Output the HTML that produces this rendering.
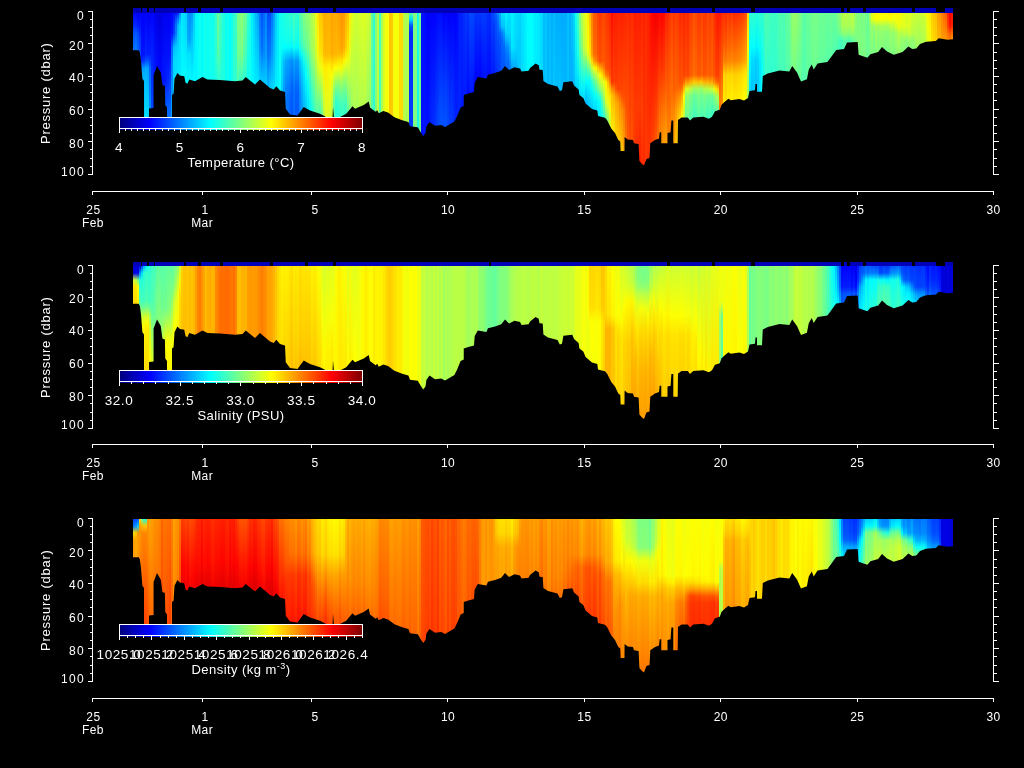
<!DOCTYPE html><html><head><meta charset="utf-8"><title>Temperature, Salinity, Density</title><style>
html,body{margin:0;padding:0;background:#000;}
body{width:1024px;height:768px;overflow:hidden;position:relative;font-family:"Liberation Sans",sans-serif;color:#fff;}
.f{position:absolute;left:0;width:1024px;height:192px;overflow:hidden;}
.cols{position:absolute;left:0;width:1024px;height:170px;}
.cols i{position:absolute;top:0;width:2px;display:block;}
.band{position:absolute;left:133px;top:8px;width:820px;height:4.5px;z-index:2;display:block;background:radial-gradient(circle at 50% 50%,#0000b8 2.3px,rgba(0,0,184,0) 2.8px) 0 0/3px 5px,linear-gradient(#0000b8,#0000b8) 0 1px/100% 3px no-repeat;}
.gap{position:absolute;top:8px;height:4px;background:#000;display:block;z-index:3;}
.cb{position:absolute;left:120px;width:242px;height:12px;background:linear-gradient(90deg,#000080 0,#00f 12.5%,#0ff 37.5%,#ff0 62.5%,#f00 87.5%,#800000 100%);}
svg{position:absolute;left:0;top:0;}
span{position:absolute;white-space:nowrap;line-height:16px;height:16px;margin-top:-8px;}
.t{font-size:12px;width:200px;text-align:center;letter-spacing:.4px;}
.c{font-size:13px;width:200px;text-align:center;letter-spacing:.45px;}
sup{line-height:0;font-size:9px;vertical-align:5px;}
.r{text-align:right;}
.y{letter-spacing:1.3px;}
.n{font-size:13.5px;letter-spacing:.6px;}
.yl{font-size:13px;left:-4.5px;width:100px;text-align:center;transform:rotate(-90deg);letter-spacing:.75px;}
</style></head><body><div class="f" style="top:0px;clip-path:polygon(133px 8px,133px 50.3px,138.75px 50.3px,139.9px 52.5px,141px 61px,142.4px 78.75px,144px 81px,144px 118px,149px 118px,149px 108.5px,153.6px 108px,153.6px 75px,157px 66px,160.75px 72.5px,162.4px 85px,164.9px 86px,165.25px 105px,167px 107.5px,167px 118px,172px 118px,172px 95px,173.6px 93.75px,174.5px 78.75px,177.4px 73px,179.9px 75.6px,184.25px 76.25px,185.5px 82.5px,187.4px 83.75px,189.25px 79.4px,195px 81.25px,202.5px 77px,207.5px 79.5px,220px 80px,235px 81.25px,242.5px 80.5px,245.75px 77px,250px 80.5px,255px 84.5px,260px 79.5px,265px 83.75px,270px 88px,273.75px 89.5px,276.25px 86.25px,280px 90.5px,285px 92px,285.75px 108.75px,290px 114.5px,297.5px 115.5px,303.75px 107px,310px 110.5px,320px 113.75px,325px 116.25px,326px 118px,332.5px 118px,333px 107px,334px 118px,340px 117px,346.25px 113.75px,352.5px 106.25px,355px 108.75px,363.75px 105px,368.75px 101.5px,370px 107.5px,375.6px 111.7px,377.2px 110.2px,378.75px 113.3px,383.4px 111px,388px 112.5px,394.4px 117.2px,402.2px 120.3px,408.4px 121.9px,410px 126.25px,417.8px 127.3px,421px 132.8px,423.3px 136px,425.6px 132.8px,426.4px 126.6px,429.5px 121.9px,435px 125.8px,441.25px 125px,445px 127px,454.4px 121.6px,457.5px 115.3px,460.6px 107.5px,463.75px 106px,463.75px 95px,468.4px 93.4px,474px 92px,474.7px 82.5px,477.8px 77px,486.4px 78.6px,488px 74.7px,495px 73px,501.25px 70.8px,505px 66px,509px 70px,514.5px 67.2px,520px 68.4px,521.6px 71.6px,528.6px 70.8px,530px 68px,535.6px 63.4px,538.75px 65.3px,539.5px 69.7px,542.7px 70px,543.4px 81px,548px 84px,557.5px 86.4px,559.8px 91px,562px 90.3px,563.4px 82.2px,572.3px 81.25px,574px 85.6px,578.6px 89.5px,579.4px 95px,583.3px 98px,585.6px 103.6px,592px 109px,597.3px 110.6px,598px 116px,605px 117.7px,607.3px 120.6px,611.25px 128.4px,615px 133px,618.3px 140px,620.3px 141.5px,620.6px 151px,624.5px 151px,624.6px 137px,627.7px 139.4px,633px 140px,634px 143.3px,638.6px 144px,639.4px 161px,642px 164px,644px 165.5px,646.4px 159px,649.5px 158px,650.3px 143.3px,655px 140px,659px 138.6px,659.7px 132.3px,661.25px 132.3px,661.25px 143.3px,667.5px 143.3px,667.5px 133px,670.6px 132.3px,671.4px 120.6px,673.3px 120.6px,673.3px 143.3px,677.7px 143.3px,678px 120px,681.6px 117.5px,687.8px 117.5px,690px 120.6px,693.3px 117.5px,703.4px 116.7px,709px 118.75px,712px 116.7px,715px 111.25px,719.8px 109.7px,721.4px 105px,724.5px 101.9px,728.4px 98.75px,730.8px 100.3px,739.4px 99px,744px 100.6px,748px 98px,749.5px 91px,755px 90.2px,755.5px 84px,757px 84px,757px 91.7px,762px 91.7px,762.8px 76px,767.8px 73.4px,779.5px 70.4px,789.3px 71.4px,792.2px 66px,797px 72.4px,801px 81.5px,806.9px 79.2px,808.8px 69.5px,811.75px 64.6px,813.7px 69.5px,817.6px 63.6px,827.4px 62px,831.3px 56.75px,836.2px 50px,844px 49px,847px 42.5px,857.7px 42px,858.6px 54.8px,867.4px 57.7px,870.4px 54.2px,878.2px 51.9px,882px 47px,887px 51.5px,893.8px 54.8px,902.6px 51.9px,908.4px 46.4px,912.3px 49px,916.25px 48.4px,920px 44px,926px 41.7px,935.8px 41px,938.7px 38.2px,947.5px 39.8px,953px 39.2px,953px 8px)"><b class="band"></b><b class="gap" style="left:140.6px;width:1.6px"></b><b class="gap" style="left:146.9px;width:2.3px"></b><b class="gap" style="left:153.9px;width:1.6px"></b><b class="gap" style="left:183.6px;width:2.4px"></b><b class="gap" style="left:198.4px;width:2.4px"></b><b class="gap" style="left:220.3px;width:2.4px"></b><b class="gap" style="left:269.5px;width:3.2px"></b><b class="gap" style="left:305px;width:2.5px"></b><b class="gap" style="left:332.5px;width:3.5px"></b><b class="gap" style="left:488.75px;width:2.25px"></b><b class="gap" style="left:667px;width:2.5px"></b><b class="gap" style="left:711.5px;width:3px"></b><b class="gap" style="left:750.75px;width:3.75px"></b><b class="gap" style="left:841px;width:3px"></b><b class="gap" style="left:847px;width:3px"></b><b class="gap" style="left:862.5px;width:3px"></b><b class="gap" style="left:912px;width:3px"></b><b class="gap" style="left:936px;width:8.5px"></b><div class="cols" style="top:12px"><i style="left:133px;height:40px;background:linear-gradient(#0000f6 0,#0026ff 14px,#0051ff 21px,#006eff 35px,#0072ff 42px)"></i><i style="left:135px;height:40px;background:linear-gradient(#0000fc 0,#002cff 14px,#0056ff 21px,#0073ff 35px,#07f 42px)"></i><i style="left:137px;height:40px;background:linear-gradient(#0000ea 0,#001aff 14px,#0045ff 21px,#0061ff 35px,#0065ff 42px)"></i><i style="left:139px;height:50px;background:linear-gradient(#0000fc 0,#0017ff 14px,#0039ff 28px,#004cff 49px)"></i><i style="left:141px;height:69px;background:linear-gradient(#0000fb 0,#01f 42px,#0029ff 49px,#0096ff 56px,#00b6ff 63px,#0bf 70px)"></i><i style="left:143px;height:107px;background:linear-gradient(#0000f8 0,#0013ff 42px,#0036ff 49px,#0098ff 56px,#00b2ff 63px,#00d7ff 112px)"></i><i style="left:145px;height:107px;background:linear-gradient(#0003ff 0,#02f 42px,#0050ff 49px,#00a8ff 56px,#00c2ff 70px,#00e6ff 112px)"></i><i style="left:147px;height:107px;background:linear-gradient(#0000f3 0,#0019ff 42px,#0052ff 49px,#009fff 56px,#00d4ff 98px,#00dcff 112px)"></i><i style="left:149px;height:98px;background:linear-gradient(#0000fb 0,#001dff 42px,#003eff 49px,#0065ff 56px,#0090ff 98px)"></i><i style="left:151px;height:98px;background:linear-gradient(#0005ff 0,#003eff 84px,#0048ff 98px)"></i><i style="left:153px;height:98px;background:linear-gradient(#0000fa 0,#0035ff 98px)"></i><i style="left:155px;height:61px;background:linear-gradient(#0000e7 0,#01f 63px)"></i><i style="left:157px;height:59px;background:linear-gradient(#0000e2 0,#000cff 63px)"></i><i style="left:159px;height:64px;background:linear-gradient(#0000de 0,#0004ff 63px)"></i><i style="left:161px;height:75px;background:linear-gradient(#0000e9 0,#01f 70px,#001fff 77px)"></i><i style="left:163px;height:80px;background:linear-gradient(#0000f1 0,#0018ff 70px,#003fff 84px)"></i><i style="left:165px;height:97px;background:linear-gradient(#0000f1 0,#001dff 70px,#0053ff 91px,#0060ff 98px)"></i><i style="left:167px;height:107px;background:linear-gradient(#0000f3 0,#0013ff 49px,#002cff 70px,#0063ff 98px,#006fff 112px)"></i><i style="left:169px;height:107px;background:linear-gradient(#0000f6 0,#0010ff 42px,#0047ff 77px,#0071ff 105px,#0071ff 112px)"></i><i style="left:171px;height:107px;background:linear-gradient(#0006ff 0,#0015ff 21px,#003bff 28px,#0063ff 35px,#0084ff 56px,#00a4ff 112px)"></i><i style="left:173px;height:84px;background:linear-gradient(#000dff 0,#0036ff 14px,#003cff 21px,#0079ff 28px,#00baff 35px,#00d8ff 49px,#00d2ff 84px)"></i><i style="left:175px;height:67px;background:linear-gradient(#0010ff 0,#004dff 7px,#0073ff 14px,#0078ff 21px,#009eff 28px,#00c6ff 35px,#00dcff 49px,#0df 70px)"></i><i style="left:177px;height:64px;background:linear-gradient(#0016ff 0,#0079ff 7px,#00b3ff 14px,#00c6ff 28px,#0df 42px,#00e8ff 63px)"></i><i style="left:179px;height:65px;background:linear-gradient(#007bff 0,#00b6ff 7px,#00d9ff 14px,#00eaff 63px)"></i><i style="left:181px;height:66px;background:linear-gradient(#00e8ff 0,#00fbff 70px)"></i><i style="left:183px;height:69px;background:linear-gradient(#0df 0,#01fffe 70px)"></i><i style="left:185px;height:73px;background:linear-gradient(#00d2ff 0,#06fff9 77px)"></i><i style="left:187px;height:73px;background:linear-gradient(#0097ff 0,#00acff 28px,#00e2ff 42px,#00faff 77px)"></i><i style="left:189px;height:69px;background:linear-gradient(#008cff 0,#00a5ff 28px,#00e2ff 42px,#00fcff 70px)"></i><i style="left:191px;height:70px;background:linear-gradient(#0097ff 0,#00caff 35px,#0ef 63px,#00f3ff 70px)"></i><i style="left:193px;height:71px;background:linear-gradient(#00c8ff 0,#00feff 70px)"></i><i style="left:195px;height:71px;background:#00f5ff"></i><i style="left:197px;height:70px;background:#00fdff"></i><i style="left:199px;height:68px;background:#0ffff0"></i><i style="left:201px;height:67px;background:#00fbff"></i><i style="left:203px;height:68px;background:#0ffff0"></i><i style="left:205px;height:69px;background:#0efff1"></i><i style="left:207px;height:69px;background:#0bfff4"></i><i style="left:209px;height:69px;background:#10ffef"></i><i style="left:211px;height:69px;background:#10ffef"></i><i style="left:213px;height:69px;background:#14ffeb"></i><i style="left:215px;height:69px;background:linear-gradient(#38ffc7 0,#2affd5 49px,#19ffe6 70px)"></i><i style="left:217px;height:69px;background:linear-gradient(#6f9 0,#5fa 42px,#28ffd7 70px)"></i><i style="left:219px;height:70px;background:linear-gradient(#4cffb3 0,#42ffbd 42px,#27ffd8 70px)"></i><i style="left:221px;height:70px;background:linear-gradient(#2cffd3 0,#20ffdf 70px)"></i><i style="left:223px;height:70px;background:#1cffe3"></i><i style="left:225px;height:70px;background:#0dfff2"></i><i style="left:227px;height:70px;background:#0ffff0"></i><i style="left:229px;height:70px;background:#0ff"></i><i style="left:231px;height:71px;background:#17ffe8"></i><i style="left:233px;height:71px;background:#2bffd4"></i><i style="left:235px;height:71px;background:linear-gradient(#41ffbe 0,#31ffce 70px)"></i><i style="left:237px;height:71px;background:linear-gradient(#7cff83 0,#72ff8d 42px,#4effb1 70px)"></i><i style="left:239px;height:70px;background:linear-gradient(#81ff7e 0,#71ff8e 42px,#35ffca 70px)"></i><i style="left:241px;height:70px;background:linear-gradient(#90ff6f 0,#79ff86 42px,#46ffb9 63px,#39ffc6 70px)"></i><i style="left:243px;height:69px;background:linear-gradient(#75ff8a 0,#58ffa7 42px,#28ffd7 70px)"></i><i style="left:245px;height:68px;background:linear-gradient(#6bff94 0,#2fffd0 63px,#29ffd6 70px)"></i><i style="left:247px;height:69px;background:linear-gradient(#36ffc9 0,#08fff7 70px)"></i><i style="left:249px;height:71px;background:linear-gradient(#1effe1 0,#0ffff0 70px)"></i><i style="left:251px;height:72px;background:linear-gradient(#00efff 0,#00f9ff 70px)"></i><i style="left:253px;height:74px;background:linear-gradient(#00d7ff 0,#00f5ff 77px)"></i><i style="left:255px;height:74px;background:linear-gradient(#00b8ff 0,#00ebff 77px)"></i><i style="left:257px;height:72px;background:linear-gradient(#00a0ff 0,#00d6ff 56px,#00e7ff 70px)"></i><i style="left:259px;height:70px;background:linear-gradient(#0070ff 0,#0097ff 42px,#00d1ff 70px)"></i><i style="left:261px;height:72px;background:linear-gradient(#0051ff 0,#006dff 35px,#00a7ff 56px,#0cf 70px)"></i><i style="left:263px;height:73px;background:linear-gradient(#0067ff 0,#008aff 42px,#00bcff 63px,#00cdff 77px)"></i><i style="left:265px;height:75px;background:linear-gradient(#0081ff 0,#009dff 42px,#00d3ff 77px)"></i><i style="left:267px;height:77px;background:linear-gradient(#004bff 0,#0071ff 42px,#00acff 70px,#00b6ff 77px)"></i><i style="left:269px;height:78px;background:linear-gradient(#0048ff 0,#007aff 42px,#00adff 63px,#0cf 77px)"></i><i style="left:271px;height:79px;background:linear-gradient(#0071ff 0,#0098ff 42px,#00d4ff 77px)"></i><i style="left:273px;height:79px;background:linear-gradient(#09f 0,#00c5ff 56px,#00dbff 77px)"></i><i style="left:275px;height:77px;background:linear-gradient(#00caff 0,#0ef 77px)"></i><i style="left:277px;height:79px;background:linear-gradient(#00eaff 0,#00f2ff 77px)"></i><i style="left:279px;height:80px;background:linear-gradient(#15ffea 0,#01fffe 84px)"></i><i style="left:281px;height:81px;background:linear-gradient(#16ffe9 0,#04fffb 35px,#00dfff 49px,#00c8ff 84px)"></i><i style="left:283px;height:81px;background:linear-gradient(#1dffe2 0,#0efff1 28px,#02fffd 35px,#00dfff 42px,#00bdff 49px,#0096ff 84px)"></i><i style="left:285px;height:100px;background:linear-gradient(#25ffda 0,#12ffed 28px,#01fffe 35px,#00d4ff 42px,#00a9ff 49px,#0079ff 84px,#0079ff 98px)"></i><i style="left:287px;height:103px;background:linear-gradient(#2bffd4 0,#12ffed 28px,#0ff 35px,#00cfff 42px,#00a1ff 49px,#0070ff 84px,#006dff 105px)"></i><i style="left:289px;height:104px;background:linear-gradient(#31ffce 0,#13ffec 28px,#00feff 35px,#00c9ff 42px,#09f 49px,#0067ff 84px,#0061ff 105px)"></i><i style="left:291px;height:104px;background:linear-gradient(#32ffcd 0,#10ffef 28px,#00f8ff 35px,#00bfff 42px,#008cff 49px,#005dff 77px,#0051ff 105px)"></i><i style="left:293px;height:105px;background:linear-gradient(#47ffb8 0,#27ffd8 28px,#1fe 35px,#00d9ff 42px,#00a6ff 49px,#0074ff 77px,#0068ff 105px)"></i><i style="left:295px;height:105px;background:linear-gradient(#3fc 0,#15ffea 28px,#01fffe 35px,#00caff 42px,#0098ff 49px,#0063ff 77px,#0057ff 105px)"></i><i style="left:297px;height:105px;background:linear-gradient(#2fffd0 0,#13ffec 28px,#0ff 35px,#0cf 42px,#09f 49px,#0062ff 77px,#0056ff 105px)"></i><i style="left:299px;height:103px;background:linear-gradient(#53ffac 0,#37ffc8 28px,#24ffdb 35px,#00f4ff 42px,#00c5ff 49px,#008dff 77px,#007dff 105px)"></i><i style="left:301px;height:100px;background:linear-gradient(#68ff97 0,#49ffb6 28px,#38ffc7 35px,#0efff1 42px,#00e4ff 49px,#00c3ff 63px,#0098ff 98px)"></i><i style="left:303px;height:98px;background:linear-gradient(#82ff7d 0,#60ff9f 28px,#4fffb0 35px,#2cffd3 42px,#0ef 56px,#00b5ff 98px)"></i><i style="left:305px;height:98px;background:linear-gradient(#8aff75 0,#60ff9f 35px,#24ffdb 49px,#01fffe 63px,#00c9ff 98px)"></i><i style="left:307px;height:99px;background:linear-gradient(#95ff6a 0,#75ff8a 35px,#4fb 49px,#12ffed 70px,#00e0ff 98px)"></i><i style="left:309px;height:100px;background:linear-gradient(#a1ff5e 0,#89ff76 35px,#50ffaf 56px,#20ffdf 77px,#00f7ff 98px)"></i><i style="left:311px;height:101px;background:linear-gradient(#b5ff4a 0,#a2ff5d 35px,#73ff8c 56px,#43ffbc 77px,#1affe5 98px,#19ffe6 105px)"></i><i style="left:313px;height:102px;background:linear-gradient(#c7ff38 0,#af5 42px,#6dff92 70px,#3dffc2 98px,#3bffc4 105px)"></i><i style="left:315px;height:102px;background:linear-gradient(#e8ff17 0,#cbff34 42px,#9bff64 63px,#60ff9f 91px,#4dffb2 105px)"></i><i style="left:317px;height:103px;background:linear-gradient(#ffe400 0,#fff600 35px,#d6ff29 56px,#af5 70px,#70ff8f 91px,#52ffad 105px)"></i><i style="left:319px;height:104px;background:linear-gradient(#ffc800 0,#ffdb00 35px,#eaff15 56px,#b3ff4c 70px,#7fff80 84px,#51ffae 98px,#41ffbe 105px)"></i><i style="left:321px;height:105px;background:linear-gradient(#ffc600 0,#ffdf00 42px,#f0ff0f 56px,#c5ff3a 70px,#8dff72 91px,#6fff90 105px)"></i><i style="left:323px;height:106px;background:linear-gradient(#ffac00 0,#ffbd00 42px,#ffef00 56px,#d7ff28 84px,#b6ff49 105px)"></i><i style="left:325px;height:107px;background:linear-gradient(#ffad00 0,#ffb700 42px,#ffec00 56px,#e1ff1e 105px,#e1ff1e 112px)"></i><i style="left:327px;height:107px;background:linear-gradient(#ffb100 0,#fb0 42px,#fff400 56px,#d9ff26 105px,#d9ff26 112px)"></i><i style="left:329px;height:107px;background:linear-gradient(#ffaf00 0,#ffb900 42px,#fff600 56px,#e2ff1d 91px,#d6ff29 112px)"></i><i style="left:331px;height:107px;background:linear-gradient(#ffa300 0,#ffad00 42px,#ffcb00 49px,#f9ff06 63px,#c0ff3f 91px,#b2ff4d 112px)"></i><i style="left:333px;height:107px;background:linear-gradient(#fa0 0,#ffb400 42px,#ffd400 49px,#fff900 56px,#dcff23 63px,#b4ff4b 70px,#92ff6d 77px,#60ff9f 91px,#50ffaf 112px)"></i><i style="left:335px;height:107px;background:linear-gradient(#ffa900 0,#ffb700 42px,#ffda00 49px,#feff01 56px,#cf3 63px,#9bff64 70px,#72ff8d 77px,#4cffb3 84px,#34ffcb 91px,#23ffdc 105px)"></i><i style="left:337px;height:107px;background:linear-gradient(#ffa600 0,#ffb200 35px,#ffbc00 42px,#ffe100 49px,#f6ff09 56px,#c6ff39 63px,#98ff67 70px,#71ff8e 77px,#36ffc9 91px,#26ffd9 105px)"></i><i style="left:339px;height:107px;background:linear-gradient(#ff9d00 0,#ffab00 35px,#ffba00 42px,#ffe300 49px,#f4ff0b 56px,#c7ff38 63px,#9bff64 70px,#7f8 77px,#3fffc0 91px,#2fffd0 105px)"></i><i style="left:341px;height:106px;background:linear-gradient(#ff9200 0,#ffa100 35px,#ffb600 42px,#ffe100 49px,#f5ff0a 56px,#caff35 63px,#a1ff5e 70px,#80ff7f 77px,#4bffb4 91px,#3affc5 105px)"></i><i style="left:343px;height:105px;background:linear-gradient(#ff9c00 0,#ffae00 35px,#ffc800 42px,#fff600 49px,#dfff20 56px,#b7ff48 63px,#91ff6e 70px,#5fa 84px,#37ffc8 98px,#30ffcf 105px)"></i><i style="left:345px;height:104px;background:linear-gradient(#ffb400 0,#fc0 35px,#ffe500 42px,#f0ff0f 49px,#cf3 56px,#af5 63px,#72ff8d 77px,#46ffb9 91px,#36ffc9 105px)"></i><i style="left:347px;height:102px;background:linear-gradient(#ffc300 0,#ffe400 35px,#ebff14 49px,#bf4 63px,#83ff7c 84px,#6f9 98px,#65ff9a 105px)"></i><i style="left:349px;height:100px;background:linear-gradient(#ffec00 0,#e6ff19 42px,#abff54 70px,#7eff81 98px)"></i><i style="left:351px;height:98px;background:linear-gradient(#e8ff17 0,#bdff42 56px,#9cff63 98px)"></i><i style="left:353px;height:98px;background:linear-gradient(#d6ff29 0,#aeff51 98px)"></i><i style="left:355px;height:98px;background:linear-gradient(#d1ff2e 0,#a8ff57 98px)"></i><i style="left:357px;height:97px;background:linear-gradient(#d4ff2b 0,#acff53 98px)"></i><i style="left:359px;height:97px;background:linear-gradient(#daff25 0,#b2ff4d 98px)"></i><i style="left:361px;height:96px;background:linear-gradient(#daff25 0,#b1ff4e 98px)"></i><i style="left:363px;height:95px;background:linear-gradient(#dfff20 0,#b4ff4b 98px)"></i><i style="left:365px;height:94px;background:linear-gradient(#dcff23 0,#afff50 98px)"></i><i style="left:367px;height:92px;background:linear-gradient(#cfff30 0,#9eff61 91px)"></i><i style="left:369px;height:98px;background:linear-gradient(#c8ff37 0,#95ff6a 98px)"></i><i style="left:371px;height:99px;background:linear-gradient(#65ff9a 0,#54ffab 98px)"></i><i style="left:373px;height:101px;background:#30ffcf"></i><i style="left:375px;height:101px;background:#8aff75"></i><i style="left:377px;height:103px;background:#bdff42"></i><i style="left:379px;height:103px;background:#47ffb8"></i><i style="left:381px;height:102px;background:#af5"></i><i style="left:383px;height:101px;background:#dcff23"></i><i style="left:385px;height:102px;background:#f5ff0a"></i><i style="left:387px;height:103px;background:#f7ff08"></i><i style="left:389px;height:104px;background:#ffc500"></i><i style="left:391px;height:106px;background:#ffcb00"></i><i style="left:393px;height:107px;background:#f1ff0e"></i><i style="left:395px;height:108px;background:#faff05"></i><i style="left:397px;height:109px;background:#f0ff0f"></i><i style="left:399px;height:109px;background:#ffda00"></i><i style="left:401px;height:110px;background:#ffdb00"></i><i style="left:403px;height:111px;background:#baff45"></i><i style="left:405px;height:111px;background:#abff54"></i><i style="left:407px;height:113px;background:#b0ff4f"></i><i style="left:409px;height:116px;background:linear-gradient(#6fff90 0,#00dfff 7px,#0050ff 14px,#0028ff 21px,#003cff 119px)"></i><i style="left:411px;height:116px;background:linear-gradient(#71ff8e 0,#00e1ff 7px,#0053ff 14px,#002bff 21px,#003eff 119px)"></i><i style="left:413px;height:116px;background:#7eff81"></i><i style="left:415px;height:117px;background:#7eff81"></i><i style="left:417px;height:119px;background:#16ffe9"></i><i style="left:419px;height:122px;background:#6dff92"></i><i style="left:421px;height:125px;background:#0010ff"></i><i style="left:423px;height:125px;background:linear-gradient(#000eff 0,#0015ff 126px)"></i><i style="left:425px;height:123px;background:linear-gradient(#0003ff 0,#0013ff 126px)"></i><i style="left:427px;height:115px;background:linear-gradient(#0000f7 0,#0010ff 119px)"></i><i style="left:429px;height:112px;background:linear-gradient(#0000fc 0,#001cff 112px)"></i><i style="left:431px;height:114px;background:linear-gradient(#0002ff 0,#0029ff 112px)"></i><i style="left:433px;height:115px;background:linear-gradient(#00f 0,#002fff 119px)"></i><i style="left:435px;height:115px;background:linear-gradient(#0005ff 0,#003cff 119px)"></i><i style="left:437px;height:115px;background:linear-gradient(#0008ff 0,#0042ff 105px,#0047ff 119px)"></i><i style="left:439px;height:115px;background:linear-gradient(#000dff 0,#0047ff 91px,#05f 119px)"></i><i style="left:441px;height:115px;background:linear-gradient(#0008ff 0,#04f 84px,#0057ff 119px)"></i><i style="left:443px;height:116px;background:linear-gradient(#0000fa 0,#0034ff 70px,#0053ff 119px)"></i><i style="left:445px;height:116px;background:linear-gradient(#0002ff 0,#003bff 70px,#0059ff 119px)"></i><i style="left:447px;height:115px;background:linear-gradient(#0000fc 0,#0039ff 84px,#0049ff 119px)"></i><i style="left:449px;height:114px;background:linear-gradient(#0000f7 0,#0034ff 98px,#003aff 112px)"></i><i style="left:451px;height:113px;background:linear-gradient(#0002ff 0,#03f 91px,#003aff 112px)"></i><i style="left:453px;height:112px;background:linear-gradient(#0000fe 0,#0027ff 84px,#002dff 112px)"></i><i style="left:455px;height:110px;background:linear-gradient(#0000fc 0,#001cff 91px,#001fff 112px)"></i><i style="left:457px;height:106px;background:linear-gradient(#000fff 0,#02f 105px)"></i><i style="left:459px;height:101px;background:linear-gradient(#001fff 0,#0023ff 105px)"></i><i style="left:461px;height:97px;background:linear-gradient(#0021ff 0,#0016ff 98px)"></i><i style="left:463px;height:96px;background:linear-gradient(#002dff 0,#0018ff 98px)"></i><i style="left:465px;height:84px;background:linear-gradient(#0038ff 0,#001aff 84px)"></i><i style="left:467px;height:83px;background:linear-gradient(#0030ff 0,#0008ff 84px)"></i><i style="left:469px;height:83px;background:linear-gradient(#0046ff 0,#0013ff 84px)"></i><i style="left:471px;height:82px;background:linear-gradient(#0047ff 0,#0014ff 84px)"></i><i style="left:473px;height:82px;background:linear-gradient(#0041ff 0,#000eff 77px,#000eff 84px)"></i><i style="left:475px;height:71px;background:linear-gradient(#0031ff 0,#0003ff 63px,#00f 70px)"></i><i style="left:477px;height:68px;background:linear-gradient(#0039ff 0,#01f 49px,#0007ff 70px)"></i><i style="left:479px;height:67px;background:linear-gradient(#0034ff 0,#000eff 42px,#0001ff 70px)"></i><i style="left:481px;height:67px;background:linear-gradient(#003cff 0,#0015ff 49px,#000dff 70px)"></i><i style="left:483px;height:68px;background:linear-gradient(#003cff 0,#0012ff 63px,#01f 70px)"></i><i style="left:485px;height:68px;background:linear-gradient(#0037ff 0,#0010ff 70px)"></i><i style="left:487px;height:67px;background:linear-gradient(#002dff 0,#000aff 70px)"></i><i style="left:489px;height:64px;background:linear-gradient(#002aff 0,#000bff 63px)"></i><i style="left:491px;height:63px;background:linear-gradient(#0045ff 0,#001aff 63px)"></i><i style="left:493px;height:63px;background:linear-gradient(#004fff 0,#0037ff 14px,#0019ff 63px)"></i><i style="left:495px;height:62px;background:linear-gradient(#006cff 0,#0054ff 7px,#002aff 63px)"></i><i style="left:497px;height:62px;background:linear-gradient(#008bff 0,#0073ff 7px,#004cff 28px,#0035ff 63px)"></i><i style="left:499px;height:61px;background:linear-gradient(#00adff 0,#008dff 14px,#0060ff 21px,#004bff 35px,#003bff 63px)"></i><i style="left:501px;height:60px;background:linear-gradient(#00e2ff 0,#00c3ff 14px,#007cff 21px,#0065ff 28px,#0053ff 63px)"></i><i style="left:503px;height:58px;background:linear-gradient(#0df 0,#00c6ff 14px,#09f 21px,#0067ff 35px,#004fff 56px)"></i><i style="left:505px;height:57px;background:linear-gradient(#00f5ff 0,#00e5ff 14px,#00d2ff 21px,#00b0ff 28px,#0089ff 35px,#0075ff 42px,#06f 56px)"></i><i style="left:507px;height:59px;background:linear-gradient(#00e2ff 0,#00d2ff 21px,#00b5ff 28px,#008fff 35px,#006bff 49px,#0060ff 63px)"></i><i style="left:509px;height:59px;background:linear-gradient(#00e2ff 0,#00d7ff 21px,#009fff 42px,#0078ff 56px,#0078ff 63px)"></i><i style="left:511px;height:58px;background:linear-gradient(#00f3ff 0,#00e9ff 35px,#00baff 49px,#00a1ff 56px)"></i><i style="left:513px;height:57px;background:linear-gradient(#00e9ff 0,#00e1ff 35px,#0af 56px)"></i><i style="left:515px;height:57px;background:linear-gradient(#00dcff 0,#00d5ff 35px,#00afff 56px)"></i><i style="left:517px;height:58px;background:linear-gradient(#00dbff 0,#00ceff 42px,#00bfff 56px)"></i><i style="left:519px;height:60px;background:linear-gradient(#00d2ff 0,#00c8ff 63px)"></i><i style="left:521px;height:61px;background:linear-gradient(#00e2ff 0,#00daff 63px)"></i><i style="left:523px;height:61px;background:linear-gradient(#00e8ff 0,#00e2ff 63px)"></i><i style="left:525px;height:61px;background:linear-gradient(#00f2ff 0,#0ef 63px)"></i><i style="left:527px;height:60px;background:linear-gradient(#00fdff 0,#00fbff 63px)"></i><i style="left:529px;height:59px;background:#00feff"></i><i style="left:531px;height:57px;background:#00feff"></i><i style="left:533px;height:55px;background:#00f3ff"></i><i style="left:535px;height:54px;background:#0ef"></i><i style="left:537px;height:56px;background:#00ebff"></i><i style="left:539px;height:59px;background:#00e2ff"></i><i style="left:541px;height:64px;background:#00dbff"></i><i style="left:543px;height:72px;background:#00bdff"></i><i style="left:545px;height:73px;background:linear-gradient(#00c6ff 0,#00c7ff 77px)"></i><i style="left:547px;height:74px;background:linear-gradient(#00b2ff 0,#00b6ff 77px)"></i><i style="left:549px;height:74px;background:linear-gradient(#00bcff 0,#00c3ff 77px)"></i><i style="left:551px;height:75px;background:linear-gradient(#00aeff 0,#00b8ff 77px)"></i><i style="left:553px;height:75px;background:linear-gradient(#0bf 0,#00c7ff 77px)"></i><i style="left:555px;height:76px;background:linear-gradient(#00afff 0,#00beff 77px)"></i><i style="left:557px;height:79px;background:linear-gradient(#00aeff 0,#00bfff 77px)"></i><i style="left:559px;height:80px;background:linear-gradient(#00adff 0,#00c2ff 84px)"></i><i style="left:561px;height:80px;background:linear-gradient(#0af 0,#0bf 84px)"></i><i style="left:563px;height:74px;background:linear-gradient(#00adff 0,#00b9ff 77px)"></i><i style="left:565px;height:72px;background:linear-gradient(#00acff 0,#00b3ff 70px)"></i><i style="left:567px;height:71px;background:linear-gradient(#00c0ff 0,#00c4ff 70px)"></i><i style="left:569px;height:71px;background:#00b0ff"></i><i style="left:571px;height:73px;background:linear-gradient(#00c1ff 0,#00b1ff 77px)"></i><i style="left:573px;height:76px;background:linear-gradient(#00d9ff 0,#00b8ff 77px)"></i><i style="left:575px;height:78px;background:linear-gradient(#14ffeb 0,#00e1ff 63px,#00d3ff 77px)"></i><i style="left:577px;height:82px;background:linear-gradient(#41ffbe 0,#1affe5 42px,#00e0ff 70px,#00c5ff 84px)"></i><i style="left:579px;height:86px;background:linear-gradient(#86ff79 0,#60ff9f 35px,#26ffd9 56px,#00ecff 77px,#00dbff 84px)"></i><i style="left:581px;height:87px;background:linear-gradient(#b8ff47 0,#89ff76 35px,#58ffa7 49px,#1fffe0 63px,#00f2ff 77px,#0df 84px,#00d6ff 91px)"></i><i style="left:583px;height:92px;background:linear-gradient(#df2 0,#bcff43 35px,#a2ff5d 42px,#79ff86 49px,#50ffaf 56px,#2dffd2 63px,#00f3ff 77px,#00d4ff 91px)"></i><i style="left:585px;height:94px;background:linear-gradient(#eaff15 0,#d7ff28 35px,#b7ff48 42px,#82ff7d 49px,#4cffb3 56px,#23ffdc 63px,#0ff 70px,#00dbff 77px,#00b9ff 91px,#00b7ff 98px)"></i><i style="left:587px;height:96px;background:linear-gradient(#ffeb00 0,#f9ff06 35px,#e6ff19 42px,#a9ff56 49px,#68ff97 56px,#30ffcf 63px,#02fffd 70px,#00d4ff 84px,#00bcff 98px)"></i><i style="left:589px;height:98px;background:linear-gradient(#ffbe00 0,#ffe600 42px,#d3ff2c 49px,#8f7 56px,#41ffbe 63px,#08fff7 70px,#00d2ff 91px,#00c5ff 98px)"></i><i style="left:591px;height:99px;background:linear-gradient(#ff8200 0,#ff9c00 42px,#ffd700 49px,#c2ff3d 56px,#70ff8f 63px,#2cffd3 70px,#09fff6 77px,#00e9ff 84px,#00cbff 98px)"></i><i style="left:593px;height:99px;background:linear-gradient(#ff5800 0,#ff6a00 42px,#ff9a00 49px,#f4ff0b 56px,#9dff62 63px,#56ffa9 70px,#29ffd6 77px,#00fbff 84px,#00daff 98px)"></i><i style="left:595px;height:100px;background:linear-gradient(#f50 0,#ff6700 42px,#f80 49px,#fff400 56px,#b3ff4c 63px,#72ff8d 70px,#41ffbe 77px,#07fff8 84px,#00e8ff 91px,#00dcff 98px)"></i><i style="left:597px;height:106px;background:linear-gradient(#ff4100 0,#ff5200 42px,#ff6400 49px,#ffcb00 56px,#dbff24 63px,#a0ff5f 70px,#6aff95 77px,#24ffdb 84px,#00faff 91px,#00eaff 105px)"></i><i style="left:599px;height:106px;background:linear-gradient(#ff3600 0,#ff4a00 49px,#ffac00 56px,#f9ff06 63px,#c4ff3b 70px,#8aff75 77px,#37ffc8 84px,#04fffb 91px,#00f2ff 105px)"></i><i style="left:601px;height:107px;background:linear-gradient(#ff4200 0,#f50 49px,#ff9700 56px,#ffe300 63px,#d2ff2d 70px,#a6ff59 77px,#69ff96 84px,#3cffc3 91px,#0ffff0 105px)"></i><i style="left:603px;height:107px;background:linear-gradient(#ff4600 0,#ff5800 49px,#ff7b00 56px,#ffb900 63px,#e6ff19 70px,#c9ff36 77px,#a2ff5d 84px,#7cff83 91px,#57ffa8 98px,#32ffcd 105px)"></i><i style="left:605px;height:110px;background:linear-gradient(#ff3b00 0,#ff4e00 56px,#ff8000 63px,#fff200 70px,#ecff13 84px,#cdff32 91px,#9f6 98px,#6f9 105px,#5effa1 112px)"></i><i style="left:607px;height:113px;background:linear-gradient(#f30 0,#ff4a00 56px,#ff6d00 63px,#fb0 70px,#ffe100 77px,#e8ff17 91px,#c3ff3c 98px,#9dff62 105px,#95ff6a 112px)"></i><i style="left:609px;height:117px;background:linear-gradient(#ff2500 0,#ff4100 56px,#ff5400 63px,#ff7d00 70px,#ffba00 77px,#ffe400 84px,#f2ff0d 98px,#daff25 105px,#cf3 119px)"></i><i style="left:611px;height:120px;background:linear-gradient(#ff0d00 0,#ff3400 70px,#f80 77px,#ffbf00 84px,#ffed00 119px)"></i><i style="left:613px;height:122px;background:linear-gradient(#ff1d00 0,#ff4000 70px,#ff7900 77px,#ffb100 84px,#ffcd00 98px,#ffeb00 126px)"></i><i style="left:615px;height:127px;background:linear-gradient(#ff1a00 0,#ff3900 70px,#ff5700 77px,#ff8f00 84px,#ffad00 91px,#ffd500 126px)"></i><i style="left:617px;height:130px;background:linear-gradient(#ff2300 0,#ff4100 77px,#ff7900 84px,#ffa100 91px,#ffd400 133px)"></i><i style="left:619px;height:140px;background:linear-gradient(#f20 0,#f40 77px,#ff6800 84px,#ff8b00 91px,#ffc200 126px,#ffd200 140px)"></i><i style="left:621px;height:140px;background:linear-gradient(#ff1f00 0,#ff4300 77px,#ff5400 84px,#ff8b00 98px,#ffc600 140px)"></i><i style="left:623px;height:140px;background:linear-gradient(#ff2300 0,#ff4c00 84px,#ff7800 98px,#fa0 140px)"></i><i style="left:625px;height:128px;background:linear-gradient(#ff2700 0,#ff4800 84px,#ff7100 126px)"></i><i style="left:627px;height:129px;background:linear-gradient(#ff2c00 0,#ff5c00 133px)"></i><i style="left:629px;height:129px;background:linear-gradient(#ff2400 0,#ff4d00 133px)"></i><i style="left:631px;height:129px;background:linear-gradient(#ff2f00 0,#ff5200 126px,#ff5200 133px)"></i><i style="left:633px;height:133px;background:linear-gradient(#ff2000 0,#ff3f00 105px,#ff3d00 133px)"></i><i style="left:635px;height:133px;background:linear-gradient(#ff1d00 0,#ff3a00 98px,#f30 133px)"></i><i style="left:637px;height:142px;background:linear-gradient(#ff2000 0,#ff3b00 98px,#ff2d00 140px)"></i><i style="left:639px;height:152px;background:linear-gradient(#ff1c00 0,#ff3900 91px,#ff1c00 154px)"></i><i style="left:641px;height:154px;background:linear-gradient(#ff2900 0,#ff4000 98px,#ff2e00 154px)"></i><i style="left:643px;height:155px;background:linear-gradient(#ff1f00 0,#ff3200 105px,#ff2900 154px)"></i><i style="left:645px;height:152px;background:linear-gradient(#ff2a00 0,#ff3900 133px,#ff3900 154px)"></i><i style="left:647px;height:148px;background:linear-gradient(#f20 0,#ff3500 147px)"></i><i style="left:649px;height:148px;background:linear-gradient(#f10 0,#ff3900 147px)"></i><i style="left:651px;height:132px;background:linear-gradient(#ff0300 0,#ff3f00 133px)"></i><i style="left:653px;height:131px;background:linear-gradient(#f70000 0,#ff3500 98px,#ff4a00 133px)"></i><i style="left:655px;height:129px;background:linear-gradient(#f40000 0,#ff2e00 77px,#ff5a00 133px)"></i><i style="left:657px;height:129px;background:linear-gradient(#fe0000 0,#ff3800 70px,#ff7500 133px)"></i><i style="left:659px;height:128px;background:linear-gradient(#ff0600 0,#ff3d00 63px,#ff7900 112px,#ff8900 126px)"></i><i style="left:661px;height:133px;background:linear-gradient(#fe0000 0,#ff3200 56px,#ff6d00 98px,#f90 133px)"></i><i style="left:663px;height:133px;background:linear-gradient(#ff0900 0,#ff3b00 56px,#ff7600 98px,#ffa100 133px)"></i><i style="left:665px;height:133px;background:linear-gradient(#ff2100 0,#ff5b00 70px,#ff9700 119px,#ffa100 133px)"></i><i style="left:667px;height:133px;background:linear-gradient(#ff2400 0,#ff6100 84px,#ff8b00 126px,#ff8d00 133px)"></i><i style="left:669px;height:122px;background:linear-gradient(#ff3600 0,#ff6c00 91px,#f80 126px)"></i><i style="left:671px;height:116px;background:linear-gradient(#ff3f00 0,#ff7100 84px,#ff9c00 119px)"></i><i style="left:673px;height:133px;background:linear-gradient(#ff3500 0,#ff5d00 77px,#ff8e00 105px,#ffa800 133px)"></i><i style="left:675px;height:133px;background:linear-gradient(#ff3e00 0,#ff6700 77px,#ff9a00 98px,#ffc300 133px)"></i><i style="left:677px;height:133px;background:linear-gradient(#ff3600 0,#ff5c00 70px,#ff6900 77px,#ff9a00 91px,#ffbd00 105px,#ffd200 133px)"></i><i style="left:679px;height:109px;background:linear-gradient(#ff2900 0,#ff4f00 70px,#ff6700 77px,#ff8f00 84px,#ffbe00 98px,#ffd200 105px,#ffd500 112px)"></i><i style="left:681px;height:107px;background:linear-gradient(#ff2d00 0,#ff5400 70px,#ff7600 77px,#ffab00 84px,#ffdf00 98px,#fff900 105px)"></i><i style="left:683px;height:107px;background:linear-gradient(#ff2300 0,#ff4300 63px,#ff6a00 70px,#ffc200 77px,#faff05 84px,#c2ff3d 105px)"></i><i style="left:685px;height:107px;background:linear-gradient(#ff2f00 0,#ff4c00 63px,#ff9500 70px,#dbff24 77px,#8dff72 84px,#6aff95 105px)"></i><i style="left:687px;height:109px;background:linear-gradient(#ff2700 0,#ff4500 63px,#ff9200 70px,#daff25 77px,#92ff6d 84px,#70ff8f 105px,#70ff8f 112px)"></i><i style="left:689px;height:110px;background:linear-gradient(#ff3b00 0,#ff5900 63px,#fa0 70px,#beff41 77px,#7cff83 84px,#5bffa4 105px,#5bffa4 112px)"></i><i style="left:691px;height:109px;background:linear-gradient(#ff4100 0,#ff5e00 63px,#ffb400 70px,#b1ff4e 77px,#75ff8a 84px,#54ffab 105px,#54ffab 112px)"></i><i style="left:693px;height:107px;background:linear-gradient(#ff5100 0,#ff6f00 63px,#ffc900 70px,#9aff65 77px,#63ff9c 84px,#43ffbc 105px)"></i><i style="left:695px;height:107px;background:linear-gradient(#ff4800 0,#f60 63px,#ffc500 70px,#9aff65 77px,#6aff95 84px,#4affb5 105px)"></i><i style="left:697px;height:107px;background:linear-gradient(#ff3c00 0,#ff5a00 63px,#ffbd00 70px,#9fff60 77px,#75ff8a 84px,#5fa 105px)"></i><i style="left:699px;height:107px;background:linear-gradient(#ff3a00 0,#ff5900 63px,#ffc000 70px,#9f6 77px,#75ff8a 84px,#5fa 105px)"></i><i style="left:701px;height:106px;background:linear-gradient(#ff4500 0,#ff6400 63px,#ffc500 70px,#97ff68 77px,#69ff96 84px,#46ffb9 105px)"></i><i style="left:703px;height:107px;background:linear-gradient(#ff3600 0,#ff5400 63px,#ffaf00 70px,#afff50 77px,#78ff87 84px,#52ffad 105px)"></i><i style="left:705px;height:108px;background:linear-gradient(#ff3900 0,#ff5700 63px,#ffad00 70px,#b5ff4a 77px,#75ff8a 84px,#4bffb4 105px,#4bffb4 112px)"></i><i style="left:707px;height:108px;background:linear-gradient(#ff4500 0,#ff6200 63px,#ffb200 70px,#b3ff4c 77px,#69ff96 84px,#3dffc2 105px,#3dffc2 112px)"></i><i style="left:709px;height:108px;background:linear-gradient(#ff3b00 0,#ff5800 63px,#ffa200 70px,#c5ff3a 77px,#73ff8c 84px,#43ffbc 105px,#43ffbc 112px)"></i><i style="left:711px;height:107px;background:linear-gradient(#ff4700 0,#ff6500 63px,#ffa800 70px,#c2ff3d 77px,#6f9 84px,#3fc 105px)"></i><i style="left:713px;height:104px;background:linear-gradient(#ff3500 0,#f50 63px,#ff8d00 70px,#e9ff16 77px,#81ff7e 84px,#50ffaf 98px,#46ffb9 105px)"></i><i style="left:715px;height:101px;background:linear-gradient(#ff2000 0,#ff4300 63px,#ff7000 70px,#ffec00 77px,#9eff61 84px,#7eff81 91px,#5fffa0 98px,#5affa5 105px)"></i><i style="left:717px;height:100px;background:linear-gradient(#ff1600 0,#ff3b00 63px,#ff5d00 70px,#ffcd00 77px,#b1ff4e 84px,#8bff74 91px,#65ff9a 98px)"></i><i style="left:719px;height:99px;background:linear-gradient(#ff1800 0,#ff4c00 56px,#ff7e00 91px,#ff7e00 98px)"></i><i style="left:721px;height:96px;background:linear-gradient(#ff2a00 0,#ff5e00 56px,#ff9000 91px,#ff9000 98px)"></i><i style="left:723px;height:93px;background:linear-gradient(#f30 0,#ff5100 28px,#ff8200 49px,#fa0 56px,#ffd600 63px,#ffea00 91px)"></i><i style="left:725px;height:91px;background:linear-gradient(#ff2900 0,#ff5a00 35px,#ff7a00 49px,#ffa200 56px,#fc0 63px,#ffe200 91px)"></i><i style="left:727px;height:89px;background:linear-gradient(#ff3600 0,#ff6900 35px,#f80 49px,#ffb000 56px,#ffd900 63px,#fff100 91px)"></i><i style="left:729px;height:90px;background:linear-gradient(#ff2f00 0,#ff6500 35px,#ff8300 49px,#ffab00 56px,#ffd300 63px,#ffec00 91px)"></i><i style="left:731px;height:90px;background:linear-gradient(#ff3700 0,#ff6f00 35px,#ff8c00 49px,#ffb500 56px,#ffdb00 63px,#fff600 91px)"></i><i style="left:733px;height:89px;background:linear-gradient(#ff2a00 0,#ff6500 35px,#ff8100 49px,#fa0 56px,#ffcf00 63px,#ffeb00 91px)"></i><i style="left:735px;height:89px;background:linear-gradient(#ff2d00 0,#ff6a00 35px,#ff8600 49px,#ffae00 56px,#ffd200 63px,#ffef00 91px)"></i><i style="left:737px;height:89px;background:linear-gradient(#ff2f00 0,#ff6200 28px,#ff8a00 49px,#ffb300 56px,#ffd400 63px,#fff000 91px)"></i><i style="left:739px;height:89px;background:linear-gradient(#ff3200 0,#ff6800 28px,#ff8f00 49px,#ffb800 56px,#ffd800 63px,#fff400 91px)"></i><i style="left:741px;height:90px;background:linear-gradient(#ff3600 0,#ff6e00 28px,#ff9500 49px,#ffbf00 56px,#ffdc00 63px,#fff800 91px)"></i><i style="left:743px;height:90px;background:linear-gradient(#ff4000 0,#ff7b00 28px,#ffa200 49px,#ffcb00 56px,#ffe700 63px,#fcff03 91px)"></i><i style="left:745px;height:89px;background:linear-gradient(#ff5000 0,#ff8600 28px,#ffac00 49px,#ffd200 56px,#ffeb00 63px,#f7ff08 91px)"></i><i style="left:747px;height:88px;background:linear-gradient(#ffda00 0,#efff10 35px,#d9ff26 49px,#acff53 63px,#95ff6a 91px)"></i><i style="left:749px;height:83px;background:linear-gradient(#3fc 0,#00feff 42px,#00d9ff 84px)"></i><i style="left:751px;height:80px;background:linear-gradient(#2bffd4 0,#00fdff 35px,#00d8ff 49px,#00c2ff 84px)"></i><i style="left:753px;height:80px;background:linear-gradient(#34ffcb 0,#05fffa 35px,#00d9ff 49px,#00c6ff 84px)"></i><i style="left:755px;height:80px;background:linear-gradient(#25ffda 0,#00f5ff 35px,#00cdff 49px,#00beff 84px)"></i><i style="left:757px;height:81px;background:linear-gradient(#2affd5 0,#00faff 35px,#00d5ff 49px,#00c9ff 84px)"></i><i style="left:759px;height:81px;background:linear-gradient(#30ffcf 0,#09fff6 35px,#00ebff 49px,#00e2ff 84px)"></i><i style="left:761px;height:81px;background:linear-gradient(#30ffcf 0,#04fffb 63px,#02fffd 84px)"></i><i style="left:763px;height:65px;background:linear-gradient(#38ffc7 0,#1cffe3 63px)"></i><i style="left:765px;height:64px;background:linear-gradient(#52ffad 0,#39ffc6 63px)"></i><i style="left:767px;height:63px;background:linear-gradient(#47ffb8 0,#31ffce 63px)"></i><i style="left:769px;height:63px;background:linear-gradient(#45ffba 0,#32ffcd 63px)"></i><i style="left:771px;height:62px;background:linear-gradient(#3dffc2 0,#2effd1 63px)"></i><i style="left:773px;height:62px;background:linear-gradient(#3fffc0 0,#3fc 63px)"></i><i style="left:775px;height:61px;background:linear-gradient(#3cffc3 0,#32ffcd 63px)"></i><i style="left:777px;height:61px;background:linear-gradient(#49ffb6 0,#3fffc0 63px)"></i><i style="left:779px;height:60px;background:linear-gradient(#4dffb2 0,#43ffbc 63px)"></i><i style="left:781px;height:60px;background:linear-gradient(#54ffab 0,#4affb5 63px)"></i><i style="left:783px;height:60px;background:linear-gradient(#48ffb7 0,#3effc1 63px)"></i><i style="left:785px;height:61px;background:linear-gradient(#5effa1 0,#54ffab 63px)"></i><i style="left:787px;height:61px;background:linear-gradient(#5effa1 0,#54ffab 63px)"></i><i style="left:789px;height:61px;background:linear-gradient(#6eff91 0,#5cffa3 63px)"></i><i style="left:791px;height:58px;background:linear-gradient(#8fff70 0,#75ff8a 56px)"></i><i style="left:793px;height:59px;background:linear-gradient(#9bff64 0,#7bff84 63px)"></i><i style="left:795px;height:62px;background:linear-gradient(#96ff69 0,#71ff8e 63px)"></i><i style="left:797px;height:66px;background:linear-gradient(#8cff73 0,#63ff9c 70px)"></i><i style="left:799px;height:71px;background:linear-gradient(#82ff7d 0,#65ff9a 70px)"></i><i style="left:801px;height:71px;background:linear-gradient(#68ff97 0,#58ffa7 70px)"></i><i style="left:803px;height:70px;background:linear-gradient(#5bffa4 0,#51ffae 70px)"></i><i style="left:805px;height:69px;background:linear-gradient(#60ff9f 0,#56ffa9 70px)"></i><i style="left:807px;height:68px;background:linear-gradient(#6bff94 0,#61ff9e 70px)"></i><i style="left:809px;height:59px;background:linear-gradient(#67ff98 0,#5effa1 63px)"></i><i style="left:811px;height:57px;background:linear-gradient(#75ff8a 0,#6bff94 56px)"></i><i style="left:813px;height:59px;background:linear-gradient(#78ff87 0,#6fff90 63px)"></i><i style="left:815px;height:57px;background:linear-gradient(#75ff8a 0,#6cff93 56px)"></i><i style="left:817px;height:54px;background:linear-gradient(#75ff8a 0,#6bff94 56px)"></i><i style="left:819px;height:53px;background:linear-gradient(#6cff93 0,#61ff9e 56px)"></i><i style="left:821px;height:53px;background:linear-gradient(#6eff91 0,#62ff9d 56px)"></i><i style="left:823px;height:52px;background:linear-gradient(#6bff94 0,#5fffa0 56px)"></i><i style="left:825px;height:52px;background:linear-gradient(#6bff94 0,#5dffa2 56px)"></i><i style="left:827px;height:52px;background:linear-gradient(#65ff9a 0,#56ffa9 56px)"></i><i style="left:829px;height:49px;background:linear-gradient(#6dff92 0,#5cffa3 49px)"></i><i style="left:831px;height:47px;background:linear-gradient(#6aff95 0,#58ffa7 49px)"></i><i style="left:833px;height:44px;background:linear-gradient(#64ff9b 0,#50ffaf 42px)"></i><i style="left:835px;height:41px;background:linear-gradient(#71ff8e 0,#50ffaf 42px)"></i><i style="left:837px;height:39px;background:linear-gradient(#82ff7d 0,#68ff97 21px,#4dffb2 28px,#46ffb9 42px)"></i><i style="left:839px;height:39px;background:linear-gradient(#91ff6e 0,#84ff7b 14px,#6eff91 21px,#4fb 28px,#3bffc4 42px)"></i><i style="left:841px;height:39px;background:linear-gradient(#b3ff4c 0,#a3ff5c 14px,#86ff79 21px,#4dffb2 28px,#43ffbc 42px)"></i><i style="left:843px;height:39px;background:linear-gradient(#b9ff46 0,#a9ff56 14px,#8cff73 21px,#53ffac 28px,#4bffb4 42px)"></i><i style="left:845px;height:36px;background:linear-gradient(#beff41 0,#aeff51 14px,#91ff6e 21px,#58ffa7 28px,#54ffab 35px)"></i><i style="left:847px;height:32px;background:linear-gradient(#b7ff48 0,#a7ff58 14px,#8aff75 21px,#51ffae 28px,#4effb1 35px)"></i><i style="left:849px;height:32px;background:linear-gradient(#b5ff4a 0,#a5ff5a 14px,#8f7 21px,#4fffb0 28px,#4dffb2 35px)"></i><i style="left:851px;height:32px;background:linear-gradient(#c4ff3b 0,#b4ff4b 14px,#97ff68 21px,#5effa1 28px,#5effa1 35px)"></i><i style="left:853px;height:32px;background:linear-gradient(#acff53 0,#a1ff5e 14px,#8eff71 21px,#68ff97 28px,#68ff97 35px)"></i><i style="left:855px;height:32px;background:linear-gradient(#96ff69 0,#87ff78 21px,#74ff8b 28px,#74ff8b 35px)"></i><i style="left:857px;height:44px;background:#7dff82"></i><i style="left:859px;height:45px;background:#82ff7d"></i><i style="left:861px;height:46px;background:#79ff86"></i><i style="left:863px;height:46px;background:#7eff81"></i><i style="left:865px;height:47px;background:#73ff8c"></i><i style="left:867px;height:47px;background:#69ff96"></i><i style="left:869px;height:45px;background:linear-gradient(#a5ff5a 0,#a5ff5a 7px,#82ff7d 14px,#74ff8b 49px)"></i><i style="left:871px;height:44px;background:linear-gradient(#e4ff1b 0,#e4ff1b 7px,#9eff61 14px,#8bff74 28px,#82ff7d 42px)"></i><i style="left:873px;height:43px;background:linear-gradient(#ef1 0,#edff12 7px,#96ff69 14px,#83ff7c 21px,#73ff8c 42px)"></i><i style="left:875px;height:42px;background:linear-gradient(#fff900 0,#fffc00 7px,#adff52 14px,#97ff68 21px,#8f7 42px)"></i><i style="left:877px;height:42px;background:linear-gradient(#ff0 0,#fbff04 7px,#a6ff59 14px,#8fff70 21px,#80ff7f 42px)"></i><i style="left:879px;height:40px;background:linear-gradient(#fffc00 0,#fbff04 7px,#a8ff57 14px,#8fff70 21px,#80ff7f 42px)"></i><i style="left:881px;height:38px;background:linear-gradient(#fffa00 0,#fcff03 7px,#af5 14px,#8fff70 21px,#80ff7f 42px)"></i><i style="left:883px;height:39px;background:linear-gradient(#fffa00 0,#faff05 7px,#a9ff56 14px,#8dff72 21px,#7eff81 42px)"></i><i style="left:885px;height:41px;background:linear-gradient(#feff01 0,#f2ff0d 7px,#a2ff5d 14px,#85ff7a 21px,#75ff8a 42px)"></i><i style="left:887px;height:42px;background:linear-gradient(#fff600 0,#faff05 7px,#abff54 14px,#8cff73 21px,#7cff83 42px)"></i><i style="left:889px;height:43px;background:linear-gradient(#fff000 0,#feff01 7px,#b1ff4e 14px,#90ff6f 21px,#80ff7f 42px)"></i><i style="left:891px;height:44px;background:linear-gradient(#fff200 0,#fdff02 7px,#bfff40 14px,#97ff68 21px,#84ff7b 42px)"></i><i style="left:893px;height:44px;background:linear-gradient(#fdff02 0,#efff10 7px,#c0ff3f 14px,#91ff6e 21px,#7bff84 42px)"></i><i style="left:895px;height:44px;background:linear-gradient(#fff800 0,#faff05 7px,#daff25 14px,#a4ff5b 21px,#8aff75 42px)"></i><i style="left:897px;height:43px;background:linear-gradient(#fff800 0,#e5ff1a 14px,#afff50 21px,#96ff69 35px,#8fff70 42px)"></i><i style="left:899px;height:43px;background:linear-gradient(#fff700 0,#efff10 14px,#beff41 21px,#a3ff5c 28px,#94ff6b 42px)"></i><i style="left:901px;height:42px;background:linear-gradient(#edff12 0,#dcff23 14px,#b2ff4d 21px,#8eff71 28px,#7fff80 42px)"></i><i style="left:903px;height:41px;background:linear-gradient(#efff10 0,#e7ff18 14px,#c2ff3d 21px,#96ff69 28px,#86ff79 42px)"></i><i style="left:905px;height:39px;background:linear-gradient(#d9ff26 0,#d9ff26 14px,#bf4 21px,#85ff7a 28px,#75ff8a 42px)"></i><i style="left:907px;height:37px;background:linear-gradient(#e2ff1d 0,#df2 14px,#c5ff3a 21px,#93ff6c 28px,#89ff76 35px)"></i><i style="left:909px;height:38px;background:linear-gradient(#e1ff1e 0,#d8ff27 14px,#c5ff3a 21px,#97ff68 28px,#89ff76 42px)"></i><i style="left:911px;height:38px;background:linear-gradient(#d7ff28 0,#bdff42 21px,#92ff6d 28px,#86ff79 35px,#86ff79 42px)"></i><i style="left:913px;height:38px;background:linear-gradient(#cf3 0,#b3ff4c 21px,#93ff6c 28px,#8f7 42px)"></i><i style="left:915px;height:38px;background:linear-gradient(#cfff30 0,#b6ff49 21px,#9f6 35px,#98ff67 42px)"></i><i style="left:917px;height:37px;background:linear-gradient(#c8ff37 0,#a0ff5f 35px)"></i><i style="left:919px;height:35px;background:linear-gradient(#cf3 0,#a4ff5b 28px,#9eff61 35px)"></i><i style="left:921px;height:33px;background:linear-gradient(#dfff20 0,#c8ff37 7px,#abff54 35px)"></i><i style="left:923px;height:32px;background:linear-gradient(#e2ff1d 0,#c2ff3d 7px,#a8ff57 35px)"></i><i style="left:925px;height:32px;background:linear-gradient(#fbff04 0,#df2 7px,#c4ff3b 35px)"></i><i style="left:927px;height:31px;background:linear-gradient(#fff300 0,#f0ff0f 14px,#e0ff1f 35px)"></i><i style="left:929px;height:31px;background:linear-gradient(#ffeb00 0,#f4ff0b 35px)"></i><i style="left:931px;height:31px;background:linear-gradient(#ffcd00 0,#ffe600 35px)"></i><i style="left:933px;height:31px;background:linear-gradient(#ffc600 0,#ffda00 35px)"></i><i style="left:935px;height:31px;background:linear-gradient(#fb0 0,#ffd400 35px)"></i><i style="left:937px;height:29px;background:linear-gradient(#ff9d00 0,#ffb900 28px)"></i><i style="left:939px;height:28px;background:linear-gradient(#ff9600 0,#ffb400 28px)"></i><i style="left:941px;height:28px;background:linear-gradient(#ff7f00 0,#ff9e00 28px)"></i><i style="left:943px;height:29px;background:linear-gradient(#ff6b00 0,#ff9a00 28px)"></i><i style="left:945px;height:29px;background:linear-gradient(#ff5700 0,#ff8700 21px,#ff9700 28px)"></i><i style="left:947px;height:29px;background:linear-gradient(#f20 0,#ff3d00 14px,#ff6a00 21px,#f80 28px)"></i><i style="left:949px;height:29px;background:linear-gradient(#fd0000 0,#ff0f00 14px,#ff5800 21px,#ff8200 28px)"></i><i style="left:951px;height:29px;background:linear-gradient(#ff0f00 0,#ff2100 14px,#ff6a00 21px,#ff9400 28px)"></i></div></div><div class="cb" style="top:118px"></div><span class="t y r" style="left:-115px;top:15.5px">0</span><span class="t y r" style="left:-115px;top:45.5px">20</span><span class="t y r" style="left:-115px;top:78px">40</span><span class="t y r" style="left:-115px;top:111px">60</span><span class="t y r" style="left:-115px;top:143.5px">80</span><span class="t y r" style="left:-115px;top:171.5px">100</span><span class="yl" style="top:93.5px">Pressure (dbar)</span><span class="t" style="left:-6.6px;top:209.5px">25</span><span class="t" style="left:-7px;top:222.5px">Feb</span><span class="t" style="left:105.02px;top:209.5px">1</span><span class="t" style="left:102.12px;top:222.5px">Mar</span><span class="t" style="left:215.14px;top:209.5px">5</span><span class="t" style="left:348.04px;top:209.5px">10</span><span class="t" style="left:484.44px;top:209.5px">15</span><span class="t" style="left:620.84px;top:209.5px">20</span><span class="t" style="left:757.24px;top:209.5px">25</span><span class="t" style="left:893.64px;top:209.5px">30</span><span class="c n" style="left:19px;top:148px">4</span><span class="c n" style="left:79.75px;top:148px">5</span><span class="c n" style="left:140.5px;top:148px">6</span><span class="c n" style="left:201.25px;top:148px">7</span><span class="c n" style="left:262px;top:148px">8</span><span class="c" style="left:141px;top:163px">Temperature (&deg;C)</span><div class="f" style="top:253.5px;clip-path:polygon(133px 8px,133px 50.3px,138.75px 50.3px,139.9px 52.5px,141px 61px,142.4px 78.75px,144px 81px,144px 118px,149px 118px,149px 108.5px,153.6px 108px,153.6px 75px,157px 66px,160.75px 72.5px,162.4px 85px,164.9px 86px,165.25px 105px,167px 107.5px,167px 118px,172px 118px,172px 95px,173.6px 93.75px,174.5px 78.75px,177.4px 73px,179.9px 75.6px,184.25px 76.25px,185.5px 82.5px,187.4px 83.75px,189.25px 79.4px,195px 81.25px,202.5px 77px,207.5px 79.5px,220px 80px,235px 81.25px,242.5px 80.5px,245.75px 77px,250px 80.5px,255px 84.5px,260px 79.5px,265px 83.75px,270px 88px,273.75px 89.5px,276.25px 86.25px,280px 90.5px,285px 92px,285.75px 108.75px,290px 114.5px,297.5px 115.5px,303.75px 107px,310px 110.5px,320px 113.75px,325px 116.25px,326px 118px,332.5px 118px,333px 107px,334px 118px,340px 117px,346.25px 113.75px,352.5px 106.25px,355px 108.75px,363.75px 105px,368.75px 101.5px,370px 107.5px,375.6px 111.7px,377.2px 110.2px,378.75px 113.3px,383.4px 111px,388px 112.5px,394.4px 117.2px,402.2px 120.3px,408.4px 121.9px,410px 126.25px,417.8px 127.3px,421px 132.8px,423.3px 136px,425.6px 132.8px,426.4px 126.6px,429.5px 121.9px,435px 125.8px,441.25px 125px,445px 127px,454.4px 121.6px,457.5px 115.3px,460.6px 107.5px,463.75px 106px,463.75px 95px,468.4px 93.4px,474px 92px,474.7px 82.5px,477.8px 77px,486.4px 78.6px,488px 74.7px,495px 73px,501.25px 70.8px,505px 66px,509px 70px,514.5px 67.2px,520px 68.4px,521.6px 71.6px,528.6px 70.8px,530px 68px,535.6px 63.4px,538.75px 65.3px,539.5px 69.7px,542.7px 70px,543.4px 81px,548px 84px,557.5px 86.4px,559.8px 91px,562px 90.3px,563.4px 82.2px,572.3px 81.25px,574px 85.6px,578.6px 89.5px,579.4px 95px,583.3px 98px,585.6px 103.6px,592px 109px,597.3px 110.6px,598px 116px,605px 117.7px,607.3px 120.6px,611.25px 128.4px,615px 133px,618.3px 140px,620.3px 141.5px,620.6px 151px,624.5px 151px,624.6px 137px,627.7px 139.4px,633px 140px,634px 143.3px,638.6px 144px,639.4px 161px,642px 164px,644px 165.5px,646.4px 159px,649.5px 158px,650.3px 143.3px,655px 140px,659px 138.6px,659.7px 132.3px,661.25px 132.3px,661.25px 143.3px,667.5px 143.3px,667.5px 133px,670.6px 132.3px,671.4px 120.6px,673.3px 120.6px,673.3px 143.3px,677.7px 143.3px,678px 120px,681.6px 117.5px,687.8px 117.5px,690px 120.6px,693.3px 117.5px,703.4px 116.7px,709px 118.75px,712px 116.7px,715px 111.25px,719.8px 109.7px,721.4px 105px,724.5px 101.9px,728.4px 98.75px,730.8px 100.3px,739.4px 99px,744px 100.6px,748px 98px,749.5px 91px,755px 90.2px,755.5px 84px,757px 84px,757px 91.7px,762px 91.7px,762.8px 76px,767.8px 73.4px,779.5px 70.4px,789.3px 71.4px,792.2px 66px,797px 72.4px,801px 81.5px,806.9px 79.2px,808.8px 69.5px,811.75px 64.6px,813.7px 69.5px,817.6px 63.6px,827.4px 62px,831.3px 56.75px,836.2px 50px,844px 49px,847px 42.5px,857.7px 42px,858.6px 54.8px,867.4px 57.7px,870.4px 54.2px,878.2px 51.9px,882px 47px,887px 51.5px,893.8px 54.8px,902.6px 51.9px,908.4px 46.4px,912.3px 49px,916.25px 48.4px,920px 44px,926px 41.7px,935.8px 41px,938.7px 38.2px,947.5px 39.8px,953px 39.2px,953px 8px)"><b class="band"></b><b class="gap" style="left:140.6px;width:1.6px"></b><b class="gap" style="left:146.9px;width:2.3px"></b><b class="gap" style="left:153.9px;width:1.6px"></b><b class="gap" style="left:183.6px;width:2.4px"></b><b class="gap" style="left:198.4px;width:2.4px"></b><b class="gap" style="left:220.3px;width:2.4px"></b><b class="gap" style="left:269.5px;width:3.2px"></b><b class="gap" style="left:305px;width:2.5px"></b><b class="gap" style="left:332.5px;width:3.5px"></b><b class="gap" style="left:488.75px;width:2.25px"></b><b class="gap" style="left:667px;width:2.5px"></b><b class="gap" style="left:711.5px;width:3px"></b><b class="gap" style="left:750.75px;width:3.75px"></b><b class="gap" style="left:841px;width:3px"></b><b class="gap" style="left:847px;width:3px"></b><b class="gap" style="left:862.5px;width:3px"></b><b class="gap" style="left:912px;width:3px"></b><b class="gap" style="left:936px;width:8.5px"></b><div class="cols" style="top:12px"><i style="left:133px;height:40px;background:linear-gradient(#0000d2 0,#0000e0 7px,#d2ff2d 14px,#ffe200 21px,#ffdc00 42px)"></i><i style="left:135px;height:40px;background:linear-gradient(#0000de 0,#0000ec 7px,#b5ff4a 14px,#ffe600 21px,#ffd500 42px)"></i><i style="left:137px;height:40px;background:linear-gradient(#0000cd 0,#0000db 7px,#7bff84 14px,#f7ff08 21px,#ffea00 42px)"></i><i style="left:139px;height:50px;background:linear-gradient(#0000d3 0,#008cff 7px,#23ffdc 14px,#49ffb6 35px,#7f8 42px,#bcff43 49px)"></i><i style="left:141px;height:69px;background:linear-gradient(#003dff 0,#00d7ff 7px,#26ffd9 14px,#43ffbc 35px,#72ff8d 42px,#bf4 49px,#ecff13 56px,#fffe00 63px,#fffd00 70px)"></i><i style="left:143px;height:107px;background:linear-gradient(#00abff 0,#27ffd8 7px,#42ffbd 35px,#71ff8e 42px,#beff41 49px,#ef1 56px,#fff600 63px,#ffe300 112px)"></i><i style="left:145px;height:107px;background:linear-gradient(#00e7ff 0,#35ffca 7px,#4effb1 35px,#7dff82 42px,#caff35 49px,#faff05 56px,#ffea00 63px,#ffd700 112px)"></i><i style="left:147px;height:107px;background:linear-gradient(#15ffea 0,#3fc 7px,#4affb5 35px,#79ff86 42px,#c6ff39 49px,#f6ff09 56px,#fe0 63px,#ffdb00 112px)"></i><i style="left:149px;height:98px;background:linear-gradient(#2dffd2 0,#42ffbd 35px,#65ff9a 42px,#9fff60 49px,#c4ff3b 56px,#dcff23 63px,#fffa00 98px)"></i><i style="left:151px;height:98px;background:linear-gradient(#43ffbc 0,#4dffb2 35px,#7bff84 56px,#b3ff4c 77px,#e6ff19 98px)"></i><i style="left:153px;height:98px;background:linear-gradient(#41ffbe 0,#59ffa6 42px,#8dff72 70px,#bf4 98px)"></i><i style="left:155px;height:61px;background:linear-gradient(#4fffb0 0,#75ff8a 49px,#83ff7c 63px)"></i><i style="left:157px;height:59px;background:linear-gradient(#62ff9d 0,#8bff74 63px)"></i><i style="left:159px;height:64px;background:linear-gradient(#5cffa3 0,#83ff7c 49px,#94ff6b 63px)"></i><i style="left:161px;height:75px;background:linear-gradient(#5fa 0,#6eff91 42px,#af5 70px,#b9ff46 77px)"></i><i style="left:163px;height:80px;background:linear-gradient(#5dffa2 0,#74ff8b 42px,#9eff61 56px,#c9ff36 70px,#deff21 77px,#e3ff1c 84px)"></i><i style="left:165px;height:97px;background:linear-gradient(#5cffa3 0,#70ff8f 42px,#a5ff5a 56px,#deff21 70px,#fbff04 77px,#fff800 98px)"></i><i style="left:167px;height:107px;background:linear-gradient(#64ff9b 0,#7fff80 42px,#afff50 56px,#e4ff1b 70px,#fffe00 77px,#fff000 112px)"></i><i style="left:169px;height:107px;background:linear-gradient(#63ff9c 0,#86ff79 42px,#afff50 56px,#e1ff1e 70px,#fbff04 77px,#fff500 112px)"></i><i style="left:171px;height:107px;background:linear-gradient(#5fffa0 0,#7eff81 28px,#b0ff4f 49px,#e3ff1c 70px,#f5ff0a 77px,#ff0 112px)"></i><i style="left:173px;height:84px;background:linear-gradient(#6aff95 0,#8f7 21px,#c5ff3a 35px,#f2ff0d 56px,#feff01 84px)"></i><i style="left:175px;height:67px;background:linear-gradient(#7aff85 0,#b0ff4f 21px,#deff21 35px,#fffe00 63px,#fffc00 70px)"></i><i style="left:177px;height:64px;background:linear-gradient(#8eff71 0,#c5ff3a 14px,#f3ff0c 28px,#fff200 63px)"></i><i style="left:179px;height:65px;background:linear-gradient(#d3ff2c 0,#ffef00 21px,#ffdf00 28px,#ffd600 63px)"></i><i style="left:181px;height:66px;background:linear-gradient(#ffce00 0,#ffc400 70px)"></i><i style="left:183px;height:69px;background:linear-gradient(#ffc400 0,#ffbc00 70px)"></i><i style="left:185px;height:73px;background:linear-gradient(#ffc400 0,#ffbd00 77px)"></i><i style="left:187px;height:73px;background:linear-gradient(#ffc700 0,#ffc200 77px)"></i><i style="left:189px;height:69px;background:linear-gradient(#ffbe00 0,#fb0 70px)"></i><i style="left:191px;height:70px;background:linear-gradient(#ffc300 0,#ffc100 70px)"></i><i style="left:193px;height:71px;background:#ffba00"></i><i style="left:195px;height:71px;background:#ffa000"></i><i style="left:197px;height:70px;background:#ff8600"></i><i style="left:199px;height:68px;background:#ff7c00"></i><i style="left:201px;height:67px;background:#ff9000"></i><i style="left:203px;height:68px;background:#ffa500"></i><i style="left:205px;height:69px;background:#ffba00"></i><i style="left:207px;height:69px;background:#ffad00"></i><i style="left:209px;height:69px;background:#ffab00"></i><i style="left:211px;height:69px;background:#ffb200"></i><i style="left:213px;height:69px;background:#ffb100"></i><i style="left:215px;height:69px;background:#ff8c00"></i><i style="left:217px;height:69px;background:#ff7d00"></i><i style="left:219px;height:70px;background:#ff7000"></i><i style="left:221px;height:70px;background:#ff6d00"></i><i style="left:223px;height:70px;background:#ff6f00"></i><i style="left:225px;height:70px;background:#ff6a00"></i><i style="left:227px;height:70px;background:#ff6b00"></i><i style="left:229px;height:70px;background:#ff7100"></i><i style="left:231px;height:71px;background:#f70"></i><i style="left:233px;height:71px;background:#ff7000"></i><i style="left:235px;height:71px;background:#ff8400"></i><i style="left:237px;height:71px;background:#ffbc00"></i><i style="left:239px;height:70px;background:#ffbc00"></i><i style="left:241px;height:70px;background:#ffb200"></i><i style="left:243px;height:69px;background:#ffb100"></i><i style="left:245px;height:68px;background:#ffb400"></i><i style="left:247px;height:69px;background:#ff9d00"></i><i style="left:249px;height:71px;background:#ff9700"></i><i style="left:251px;height:72px;background:#ff9a00"></i><i style="left:253px;height:74px;background:#ff9b00"></i><i style="left:255px;height:74px;background:#f90"></i><i style="left:257px;height:72px;background:#ff9000"></i><i style="left:259px;height:70px;background:#ff8600"></i><i style="left:261px;height:72px;background:#ff7d00"></i><i style="left:263px;height:73px;background:#ff8700"></i><i style="left:265px;height:75px;background:#ff9200"></i><i style="left:267px;height:77px;background:#ffa200"></i><i style="left:269px;height:78px;background:#ffa000"></i><i style="left:271px;height:79px;background:#fa0"></i><i style="left:273px;height:79px;background:#ffb400"></i><i style="left:275px;height:77px;background:#ffc500"></i><i style="left:277px;height:79px;background:linear-gradient(#ffd800 0,#ffd500 77px)"></i><i style="left:279px;height:80px;background:linear-gradient(#ffe700 0,#ffdc00 84px)"></i><i style="left:281px;height:81px;background:linear-gradient(#fff400 0,#ffe100 84px)"></i><i style="left:283px;height:81px;background:linear-gradient(#fff100 0,#ffdb00 70px,#ffd600 84px)"></i><i style="left:285px;height:100px;background:linear-gradient(#fff200 0,#ffda00 70px,#ffd300 98px)"></i><i style="left:287px;height:103px;background:linear-gradient(#fff100 0,#ffda00 70px,#ffd000 105px)"></i><i style="left:289px;height:104px;background:linear-gradient(#ffe600 0,#ffd000 70px,#ffc400 105px)"></i><i style="left:291px;height:104px;background:linear-gradient(#ffde00 0,#ffc800 70px,#ffba00 105px)"></i><i style="left:293px;height:105px;background:linear-gradient(#ffed00 0,#ffd800 70px,#ffc800 105px)"></i><i style="left:295px;height:105px;background:linear-gradient(#ffe600 0,#ffd200 70px,#ffc000 105px)"></i><i style="left:297px;height:105px;background:linear-gradient(#ffec00 0,#ffd900 70px,#ffc400 105px)"></i><i style="left:299px;height:103px;background:linear-gradient(#ffdc00 0,#ffca00 70px,#ffb300 105px)"></i><i style="left:301px;height:100px;background:linear-gradient(#ffe400 0,#ffd000 70px,#ffbe00 98px)"></i><i style="left:303px;height:98px;background:linear-gradient(#ffe500 0,#fc0 77px,#ffbf00 98px)"></i><i style="left:305px;height:98px;background:linear-gradient(#ffe600 0,#fc0 77px,#ffc000 98px)"></i><i style="left:307px;height:99px;background:linear-gradient(#ffe600 0,#ffc800 84px,#ffc000 98px)"></i><i style="left:309px;height:100px;background:linear-gradient(#ffe700 0,#ffc500 91px,#ffc100 98px)"></i><i style="left:311px;height:101px;background:linear-gradient(#fff500 0,#fc0 105px)"></i><i style="left:313px;height:102px;background:linear-gradient(#fe0 0,#ffc500 105px)"></i><i style="left:315px;height:102px;background:linear-gradient(#fff000 0,#ffc700 105px)"></i><i style="left:317px;height:103px;background:linear-gradient(#fffe00 0,#ffd600 105px)"></i><i style="left:319px;height:104px;background:linear-gradient(#f9ff06 0,#ffd700 105px)"></i><i style="left:321px;height:105px;background:linear-gradient(#e3ff1c 0,#f9ff06 49px,#fe0 84px,#ffe800 105px)"></i><i style="left:323px;height:106px;background:linear-gradient(#d6ff29 0,#ebff14 49px,#fffb00 84px,#fff500 105px)"></i><i style="left:325px;height:107px;background:linear-gradient(#dcff23 0,#f1ff0e 49px,#fff500 84px,#ffef00 112px)"></i><i style="left:327px;height:107px;background:linear-gradient(#deff21 0,#f3ff0c 49px,#fff300 84px,#ffed00 112px)"></i><i style="left:329px;height:107px;background:linear-gradient(#deff21 0,#f4ff0b 49px,#fff300 84px,#ffed00 112px)"></i><i style="left:331px;height:107px;background:linear-gradient(#e6ff19 0,#fbff04 49px,#ffeb00 84px,#ffe500 112px)"></i><i style="left:333px;height:107px;background:linear-gradient(#e4ff1b 0,#f4ff0b 49px,#fff500 98px,#fff400 112px)"></i><i style="left:335px;height:107px;background:linear-gradient(#fdff02 0,#fff500 105px)"></i><i style="left:337px;height:107px;background:linear-gradient(#fff400 0,#fff100 105px)"></i><i style="left:339px;height:107px;background:linear-gradient(#fff200 0,#ffe700 105px)"></i><i style="left:341px;height:106px;background:linear-gradient(#fffb00 0,#ffe800 105px)"></i><i style="left:343px;height:105px;background:linear-gradient(#f8ff07 0,#ffeb00 105px)"></i><i style="left:345px;height:104px;background:linear-gradient(#f6ff09 0,#ffe900 105px)"></i><i style="left:347px;height:102px;background:linear-gradient(#e2ff1d 0,#fffd00 105px)"></i><i style="left:349px;height:100px;background:linear-gradient(#f3ff0c 0,#fe0 98px)"></i><i style="left:351px;height:98px;background:linear-gradient(#e9ff16 0,#fff700 98px)"></i><i style="left:353px;height:98px;background:linear-gradient(#dfff20 0,#feff01 98px)"></i><i style="left:355px;height:98px;background:linear-gradient(#e6ff19 0,#ff0 98px)"></i><i style="left:357px;height:97px;background:linear-gradient(#e8ff17 0,#f4ff0b 98px)"></i><i style="left:359px;height:97px;background:#f4ff0b"></i><i style="left:361px;height:96px;background:#fffa00"></i><i style="left:363px;height:95px;background:#fff900"></i><i style="left:365px;height:94px;background:#ffec00"></i><i style="left:367px;height:92px;background:#fff700"></i><i style="left:369px;height:98px;background:#fffb00"></i><i style="left:371px;height:99px;background:#fffb00"></i><i style="left:373px;height:101px;background:#ffeb00"></i><i style="left:375px;height:101px;background:#fff400"></i><i style="left:377px;height:103px;background:#fff500"></i><i style="left:379px;height:103px;background:#fff400"></i><i style="left:381px;height:102px;background:#fff200"></i><i style="left:383px;height:101px;background:#ffe700"></i><i style="left:385px;height:102px;background:#fd0"></i><i style="left:387px;height:103px;background:#ffd100"></i><i style="left:389px;height:104px;background:#fc0"></i><i style="left:391px;height:106px;background:#ffd400"></i><i style="left:393px;height:107px;background:#ffde00"></i><i style="left:395px;height:108px;background:#ffe300"></i><i style="left:397px;height:109px;background:#fe0"></i><i style="left:399px;height:109px;background:#ffe800"></i><i style="left:401px;height:110px;background:#fff200"></i><i style="left:403px;height:111px;background:#f4ff0b"></i><i style="left:405px;height:111px;background:#f7ff08"></i><i style="left:407px;height:113px;background:#ef1"></i><i style="left:409px;height:116px;background:#feff01"></i><i style="left:411px;height:116px;background:#fcff03"></i><i style="left:413px;height:116px;background:#fcff03"></i><i style="left:415px;height:117px;background:#fffe00"></i><i style="left:417px;height:119px;background:#ebff14"></i><i style="left:419px;height:122px;background:#f1ff0e"></i><i style="left:421px;height:125px;background:#c0ff3f"></i><i style="left:423px;height:125px;background:#c8ff37"></i><i style="left:425px;height:123px;background:#baff45"></i><i style="left:427px;height:115px;background:#b7ff48"></i><i style="left:429px;height:112px;background:#bfff40"></i><i style="left:431px;height:114px;background:#b3ff4c"></i><i style="left:433px;height:115px;background:#c5ff3a"></i><i style="left:435px;height:115px;background:#baff45"></i><i style="left:437px;height:115px;background:#bfff40"></i><i style="left:439px;height:115px;background:#b5ff4a"></i><i style="left:441px;height:115px;background:#baff45"></i><i style="left:443px;height:116px;background:#a1ff5e"></i><i style="left:445px;height:116px;background:#b0ff4f"></i><i style="left:447px;height:115px;background:#a9ff56"></i><i style="left:449px;height:114px;background:#b3ff4c"></i><i style="left:451px;height:113px;background:#b0ff4f"></i><i style="left:453px;height:112px;background:#bf4"></i><i style="left:455px;height:110px;background:#baff45"></i><i style="left:457px;height:106px;background:#bf4"></i><i style="left:459px;height:101px;background:#b9ff46"></i><i style="left:461px;height:97px;background:#b9ff46"></i><i style="left:463px;height:96px;background:#b9ff46"></i><i style="left:465px;height:84px;background:#adff52"></i><i style="left:467px;height:83px;background:#a5ff5a"></i><i style="left:469px;height:83px;background:#a3ff5c"></i><i style="left:471px;height:82px;background:#afff50"></i><i style="left:473px;height:82px;background:#af5"></i><i style="left:475px;height:71px;background:#b0ff4f"></i><i style="left:477px;height:68px;background:#a1ff5e"></i><i style="left:479px;height:67px;background:#90ff6f"></i><i style="left:481px;height:67px;background:#90ff6f"></i><i style="left:483px;height:68px;background:#8bff74"></i><i style="left:485px;height:68px;background:#78ff87"></i><i style="left:487px;height:67px;background:#6fff90"></i><i style="left:489px;height:64px;background:#69ff96"></i><i style="left:491px;height:63px;background:#6eff91"></i><i style="left:493px;height:63px;background:#61ff9e"></i><i style="left:495px;height:62px;background:#6f9"></i><i style="left:497px;height:62px;background:#76ff89"></i><i style="left:499px;height:61px;background:#7cff83"></i><i style="left:501px;height:60px;background:#84ff7b"></i><i style="left:503px;height:58px;background:#81ff7e"></i><i style="left:505px;height:57px;background:#82ff7d"></i><i style="left:507px;height:59px;background:#8eff71"></i><i style="left:509px;height:59px;background:#9aff65"></i><i style="left:511px;height:58px;background:#adff52"></i><i style="left:513px;height:57px;background:#abff54"></i><i style="left:515px;height:57px;background:#b5ff4a"></i><i style="left:517px;height:58px;background:#b8ff47"></i><i style="left:519px;height:60px;background:#b6ff49"></i><i style="left:521px;height:61px;background:#baff45"></i><i style="left:523px;height:61px;background:#bdff42"></i><i style="left:525px;height:61px;background:#b9ff46"></i><i style="left:527px;height:60px;background:#b9ff46"></i><i style="left:529px;height:59px;background:#b5ff4a"></i><i style="left:531px;height:57px;background:#bfff40"></i><i style="left:533px;height:55px;background:#beff41"></i><i style="left:535px;height:54px;background:#bcff43"></i><i style="left:537px;height:56px;background:#b6ff49"></i><i style="left:539px;height:59px;background:#bf4"></i><i style="left:541px;height:64px;background:#c6ff39"></i><i style="left:543px;height:72px;background:#bf4"></i><i style="left:545px;height:73px;background:#bcff43"></i><i style="left:547px;height:74px;background:#c1ff3e"></i><i style="left:549px;height:74px;background:#bcff43"></i><i style="left:551px;height:75px;background:#c1ff3e"></i><i style="left:553px;height:75px;background:#bdff42"></i><i style="left:555px;height:76px;background:#bdff42"></i><i style="left:557px;height:79px;background:#c3ff3c"></i><i style="left:559px;height:80px;background:#c5ff3a"></i><i style="left:561px;height:80px;background:#c7ff38"></i><i style="left:563px;height:74px;background:#c8ff37"></i><i style="left:565px;height:72px;background:#d0ff2f"></i><i style="left:567px;height:71px;background:#c6ff39"></i><i style="left:569px;height:71px;background:#cdff32"></i><i style="left:571px;height:73px;background:#caff35"></i><i style="left:573px;height:76px;background:#d4ff2b"></i><i style="left:575px;height:78px;background:#e4ff1b"></i><i style="left:577px;height:82px;background:#eaff15"></i><i style="left:579px;height:86px;background:#e5ff1a"></i><i style="left:581px;height:87px;background:#f1ff0e"></i><i style="left:583px;height:92px;background:#f8ff07"></i><i style="left:585px;height:94px;background:#f2ff0d"></i><i style="left:587px;height:96px;background:linear-gradient(#fffb00 0,#feff01 42px,#e9ff16 63px,#e9ff16 98px)"></i><i style="left:589px;height:98px;background:linear-gradient(#ffd400 0,#ffde00 42px,#fdff02 56px,#f7ff08 98px)"></i><i style="left:591px;height:99px;background:linear-gradient(#ffd500 0,#ffdf00 42px,#fdff02 56px,#f9ff06 98px)"></i><i style="left:593px;height:99px;background:linear-gradient(#ffd600 0,#ffe000 42px,#feff01 56px,#fbff04 98px)"></i><i style="left:595px;height:100px;background:linear-gradient(#ffdb00 0,#ffe500 42px,#f9ff06 56px,#f9ff06 98px)"></i><i style="left:597px;height:106px;background:linear-gradient(#ffdc00 0,#ffe600 42px,#faff05 56px,#fbff04 105px)"></i><i style="left:599px;height:106px;background:linear-gradient(#ffd600 0,#ffe000 42px,#fffd00 56px,#fff900 105px)"></i><i style="left:601px;height:107px;background:linear-gradient(#ffc200 0,#fc0 42px,#ffe800 56px,#ffe300 105px)"></i><i style="left:603px;height:107px;background:linear-gradient(#ffc800 0,#ffcd00 42px,#ffda00 56px,#ffd000 105px)"></i><i style="left:605px;height:110px;background:linear-gradient(#ffdb00 0,#ffd700 49px,#ffb700 63px,#ffb500 112px)"></i><i style="left:607px;height:113px;background:linear-gradient(#fff200 0,#ffe400 49px,#ffb500 63px,#ffb500 112px)"></i><i style="left:609px;height:117px;background:linear-gradient(#fff100 0,#ffe400 49px,#ffb400 63px,#ffb400 119px)"></i><i style="left:611px;height:120px;background:linear-gradient(#fcff03 0,#fff400 49px,#ffc500 63px,#ffc500 119px)"></i><i style="left:613px;height:122px;background:linear-gradient(#feff01 0,#fff300 49px,#ffc700 63px,#ffc300 126px)"></i><i style="left:615px;height:127px;background:linear-gradient(#eaff15 0,#f7ff08 49px,#ffe300 63px,#ffd800 126px)"></i><i style="left:617px;height:130px;background:linear-gradient(#f4ff0b 0,#fffe00 49px,#ffd600 70px,#ffcd00 133px)"></i><i style="left:619px;height:140px;background:linear-gradient(#e2ff1d 0,#fbff04 49px,#ffdf00 70px,#ffd300 140px)"></i><i style="left:621px;height:140px;background:linear-gradient(#d2ff2d 0,#e7ff18 28px,#fffa00 56px,#ffe500 70px,#ffd700 140px)"></i><i style="left:623px;height:140px;background:linear-gradient(#d5ff2a 0,#e2ff1d 21px,#fffc00 42px,#ffd600 77px,#ffc900 140px)"></i><i style="left:625px;height:128px;background:linear-gradient(#cf3 0,#df2 21px,#fffe00 35px,#ffd300 77px,#ffc600 126px)"></i><i style="left:627px;height:129px;background:linear-gradient(#c6ff39 0,#daff25 21px,#fff900 35px,#ffcf00 77px,#ffbf00 133px)"></i><i style="left:629px;height:129px;background:linear-gradient(#bcff43 0,#c4ff3b 14px,#d3ff2c 21px,#fff800 35px,#ffcf00 77px,#ffbd00 133px)"></i><i style="left:631px;height:129px;background:linear-gradient(#bfff40 0,#c7ff38 14px,#d6ff29 21px,#fff500 35px,#ffc300 70px,#ffa500 133px)"></i><i style="left:633px;height:133px;background:linear-gradient(#a8ff57 0,#b0ff4f 14px,#bfff40 21px,#f1ff0e 35px,#ffd600 63px,#ffb300 105px,#ffa600 133px)"></i><i style="left:635px;height:133px;background:linear-gradient(#95ff6a 0,#9dff62 14px,#adff52 21px,#e3ff1c 35px,#ffec00 56px,#ffbd00 91px,#ffa800 133px)"></i><i style="left:637px;height:142px;background:linear-gradient(#7bff84 0,#83ff7c 14px,#95ff6a 21px,#b8ff47 28px,#e8ff17 42px,#ffe100 70px,#ffc300 105px,#ffb100 140px)"></i><i style="left:639px;height:152px;background:linear-gradient(#7cff83 0,#84ff7b 14px,#98ff67 21px,#bfff40 28px,#f6ff09 42px,#ffd300 70px,#ffb400 105px,#ff9e00 154px)"></i><i style="left:641px;height:154px;background:linear-gradient(#76ff89 0,#7dff82 14px,#91ff6e 21px,#baff45 28px,#f4ff0b 42px,#ffd300 70px,#ffb400 105px,#ff9e00 154px)"></i><i style="left:643px;height:155px;background:linear-gradient(#75ff8a 0,#7dff82 14px,#90ff6f 21px,#b6ff49 28px,#f0ff0f 42px,#ffdc00 63px,#ffb400 105px,#ff9e00 154px)"></i><i style="left:645px;height:152px;background:linear-gradient(#78ff87 0,#80ff7f 14px,#92ff6d 21px,#b7ff48 28px,#efff10 42px,#ffd900 63px,#ffb100 105px,#ff9b00 154px)"></i><i style="left:647px;height:148px;background:linear-gradient(#78ff87 0,#81ff7e 14px,#93ff6c 21px,#cfff30 35px,#fcff03 49px,#ffd900 70px,#ffba00 105px,#ffa400 147px)"></i><i style="left:649px;height:148px;background:linear-gradient(#97ff68 0,#a4ff5b 14px,#b5ff4a 21px,#e9ff16 35px,#ffe100 56px,#ffb200 91px,#ff9500 147px)"></i><i style="left:651px;height:132px;background:linear-gradient(#9fff60 0,#bfff40 21px,#dcff23 28px,#ffe900 56px,#fb0 91px,#ffa500 133px)"></i><i style="left:653px;height:131px;background:linear-gradient(#b5ff4a 0,#d4ff2b 21px,#faff05 35px,#ffc700 70px,#ff9d00 133px)"></i><i style="left:655px;height:129px;background:linear-gradient(#b6ff49 0,#d2ff2d 21px,#fff100 49px,#ffd200 70px,#ffab00 133px)"></i><i style="left:657px;height:129px;background:linear-gradient(#baff45 0,#e3ff1c 28px,#ffea00 56px,#ffc400 105px,#ffb500 133px)"></i><i style="left:659px;height:128px;background:linear-gradient(#c2ff3d 0,#ff0 42px,#ffd900 70px,#fb0 126px)"></i><i style="left:661px;height:133px;background:linear-gradient(#c7ff38 0,#fcff03 42px,#ffe000 63px,#ffc300 133px)"></i><i style="left:663px;height:133px;background:linear-gradient(#c6ff39 0,#ff0 49px,#ffe500 70px,#ffd100 133px)"></i><i style="left:665px;height:133px;background:linear-gradient(#d1ff2e 0,#fff800 49px,#ffdf00 70px,#ffcd00 133px)"></i><i style="left:667px;height:133px;background:linear-gradient(#d6ff29 0,#fff500 49px,#ffda00 70px,#ffc900 133px)"></i><i style="left:669px;height:122px;background:linear-gradient(#d1ff2e 0,#fffb00 49px,#ffdf00 70px,#ffd000 126px)"></i><i style="left:671px;height:116px;background:linear-gradient(#caff35 0,#fbff04 49px,#ffe600 70px,#ffd900 119px)"></i><i style="left:673px;height:133px;background:linear-gradient(#d0ff2f 0,#fffe00 49px,#ffe000 70px,#ffd100 133px)"></i><i style="left:675px;height:133px;background:linear-gradient(#cf3 0,#faff05 49px,#ffe500 70px,#ffd600 133px)"></i><i style="left:677px;height:133px;background:linear-gradient(#ceff31 0,#fbff04 49px,#ffe200 70px,#ffd500 133px)"></i><i style="left:679px;height:109px;background:linear-gradient(#d2ff2d 0,#feff01 49px,#ffde00 70px,#ffd300 112px)"></i><i style="left:681px;height:107px;background:linear-gradient(#d3ff2c 0,#feff01 49px,#ffde00 70px,#ffd400 105px)"></i><i style="left:683px;height:107px;background:linear-gradient(#d3ff2c 0,#fdff02 49px,#fd0 70px,#ffd400 105px)"></i><i style="left:685px;height:107px;background:linear-gradient(#cbff34 0,#f3ff0c 49px,#ffe600 70px,#ffdc00 105px)"></i><i style="left:687px;height:109px;background:linear-gradient(#d5ff2a 0,#fcff03 49px,#ffdc00 70px,#ffd200 112px)"></i><i style="left:689px;height:110px;background:linear-gradient(#cdff32 0,#f3ff0c 49px,#ffe400 70px,#ffda00 112px)"></i><i style="left:691px;height:109px;background:linear-gradient(#c8ff37 0,#ecff13 49px,#fe0 70px,#ffe300 112px)"></i><i style="left:693px;height:107px;background:linear-gradient(#caff35 0,#f8ff07 56px,#ffef00 77px,#ffe400 105px)"></i><i style="left:695px;height:107px;background:linear-gradient(#d6ff29 0,#fffd00 56px,#ffe800 77px,#ffdc00 105px)"></i><i style="left:697px;height:107px;background:linear-gradient(#c4ff3b 0,#ecff13 56px,#fff800 91px,#fff100 105px)"></i><i style="left:699px;height:107px;background:linear-gradient(#c4ff3b 0,#ff0 84px,#fff400 105px)"></i><i style="left:701px;height:106px;background:linear-gradient(#d4ff2b 0,#fff000 91px,#ffe800 105px)"></i><i style="left:703px;height:107px;background:linear-gradient(#cf3 0,#fff700 98px,#fff300 105px)"></i><i style="left:705px;height:108px;background:linear-gradient(#df2 0,#ffe500 112px)"></i><i style="left:707px;height:108px;background:linear-gradient(#d2ff2d 0,#fff300 112px)"></i><i style="left:709px;height:108px;background:linear-gradient(#d7ff28 0,#fff100 112px)"></i><i style="left:711px;height:107px;background:linear-gradient(#e1ff1e 0,#ffea00 105px)"></i><i style="left:713px;height:104px;background:linear-gradient(#e5ff1a 0,#ffe900 105px)"></i><i style="left:715px;height:101px;background:linear-gradient(#e6ff19 0,#ffeb00 105px)"></i><i style="left:717px;height:100px;background:linear-gradient(#e8ff17 0,#ffec00 98px)"></i><i style="left:719px;height:99px;background:linear-gradient(#f1ff0e 0,#f0ff0f 35px,#cfff30 42px,#9fff60 49px,#92ff6d 98px)"></i><i style="left:721px;height:96px;background:linear-gradient(#f5ff0a 0,#ebff14 35px,#baff45 42px,#6fff90 49px,#51ffae 98px)"></i><i style="left:723px;height:93px;background:linear-gradient(#ebff14 0,#ff0 91px)"></i><i style="left:725px;height:91px;background:linear-gradient(#f3ff0c 0,#fff800 91px)"></i><i style="left:727px;height:89px;background:linear-gradient(#f1ff0e 0,#fffa00 91px)"></i><i style="left:729px;height:90px;background:linear-gradient(#f0ff0f 0,#fffc00 91px)"></i><i style="left:731px;height:90px;background:linear-gradient(#f6ff09 0,#fff800 91px)"></i><i style="left:733px;height:89px;background:linear-gradient(#faff05 0,#fff400 91px)"></i><i style="left:735px;height:89px;background:linear-gradient(#fbff04 0,#fff400 91px)"></i><i style="left:737px;height:89px;background:linear-gradient(#f0ff0f 0,#feff01 91px)"></i><i style="left:739px;height:89px;background:linear-gradient(#edff12 0,#faff05 91px)"></i><i style="left:741px;height:90px;background:linear-gradient(#ef1 0,#faff05 91px)"></i><i style="left:743px;height:90px;background:linear-gradient(#faff05 0,#fff800 91px)"></i><i style="left:745px;height:89px;background:linear-gradient(#e8ff17 0,#f2ff0d 91px)"></i><i style="left:747px;height:88px;background:linear-gradient(#adff52 0,#b2ff4d 91px)"></i><i style="left:749px;height:83px;background:#63ff9c"></i><i style="left:751px;height:80px;background:#79ff86"></i><i style="left:753px;height:80px;background:#74ff8b"></i><i style="left:755px;height:80px;background:#7eff81"></i><i style="left:757px;height:81px;background:#83ff7c"></i><i style="left:759px;height:81px;background:#85ff7a"></i><i style="left:761px;height:81px;background:#82ff7d"></i><i style="left:763px;height:65px;background:#7dff82"></i><i style="left:765px;height:64px;background:#7bff84"></i><i style="left:767px;height:63px;background:#79ff86"></i><i style="left:769px;height:63px;background:#8fff70"></i><i style="left:771px;height:62px;background:#86ff79"></i><i style="left:773px;height:62px;background:#8aff75"></i><i style="left:775px;height:61px;background:#93ff6c"></i><i style="left:777px;height:61px;background:#8dff72"></i><i style="left:779px;height:60px;background:#8bff74"></i><i style="left:781px;height:60px;background:#8aff75"></i><i style="left:783px;height:60px;background:#96ff69"></i><i style="left:785px;height:61px;background:#89ff76"></i><i style="left:787px;height:61px;background:#8fff70"></i><i style="left:789px;height:61px;background:#a3ff5c"></i><i style="left:791px;height:58px;background:#a2ff5d"></i><i style="left:793px;height:59px;background:#b6ff49"></i><i style="left:795px;height:62px;background:#c9ff36"></i><i style="left:797px;height:66px;background:#c0ff3f"></i><i style="left:799px;height:71px;background:#c2ff3d"></i><i style="left:801px;height:71px;background:#c1ff3e"></i><i style="left:803px;height:70px;background:#b2ff4d"></i><i style="left:805px;height:69px;background:#b9ff46"></i><i style="left:807px;height:68px;background:#b4ff4b"></i><i style="left:809px;height:59px;background:#b1ff4e"></i><i style="left:811px;height:57px;background:#b6ff49"></i><i style="left:813px;height:59px;background:#adff52"></i><i style="left:815px;height:57px;background:#9fff60"></i><i style="left:817px;height:54px;background:#90ff6f"></i><i style="left:819px;height:53px;background:#8dff72"></i><i style="left:821px;height:53px;background:#7dff82"></i><i style="left:823px;height:52px;background:#6dff92"></i><i style="left:825px;height:52px;background:#5effa1"></i><i style="left:827px;height:52px;background:#48ffb7"></i><i style="left:829px;height:49px;background:linear-gradient(#2bffd4 0,#39ffc6 49px)"></i><i style="left:831px;height:47px;background:linear-gradient(#0afff5 0,#25ffda 49px)"></i><i style="left:833px;height:44px;background:linear-gradient(#00f2ff 0,#1bffe4 42px)"></i><i style="left:835px;height:41px;background:linear-gradient(#00bfff 0,#00f2ff 28px,#0cfff3 42px)"></i><i style="left:837px;height:39px;background:linear-gradient(#0087ff 0,#00b2ff 21px,#00ebff 35px,#00f8ff 42px)"></i><i style="left:839px;height:39px;background:linear-gradient(#0040ff 0,#0063ff 21px,#008cff 28px,#00a2ff 35px,#00abff 42px)"></i><i style="left:841px;height:39px;background:linear-gradient(#0000fb 0,#0018ff 21px,#004dff 28px,#0062ff 42px)"></i><i style="left:843px;height:39px;background:linear-gradient(#00f 0,#001cff 21px,#0053ff 28px,#06f 42px)"></i><i style="left:845px;height:36px;background:linear-gradient(#00f 0,#001dff 21px,#0054ff 28px,#0062ff 35px)"></i><i style="left:847px;height:32px;background:linear-gradient(#0001ff 0,#001eff 21px,#0057ff 28px,#0064ff 35px)"></i><i style="left:849px;height:32px;background:linear-gradient(#0002ff 0,#0020ff 21px,#005aff 28px,#06f 35px)"></i><i style="left:851px;height:32px;background:linear-gradient(#0000f0 0,#000fff 21px,#004aff 28px,#0056ff 35px)"></i><i style="left:853px;height:32px;background:linear-gradient(#00f 0,#001fff 21px,#005bff 28px,#06f 35px)"></i><i style="left:855px;height:32px;background:linear-gradient(#0000ea 0,#0000f8 14px,#000aff 21px,#0047ff 28px,#0051ff 35px)"></i><i style="left:857px;height:44px;background:linear-gradient(#0014ff 0,#002bff 14px,#0057ff 21px,#0084ff 28px,#0098ff 42px)"></i><i style="left:859px;height:45px;background:linear-gradient(#003dff 0,#005cff 14px,#00a3ff 21px,#00c2ff 28px,#00deff 42px,#00e0ff 49px)"></i><i style="left:861px;height:46px;background:linear-gradient(#004bff 0,#0058ff 7px,#008fff 14px,#00c2ff 21px,#00e6ff 35px,#00f5ff 49px)"></i><i style="left:863px;height:46px;background:linear-gradient(#05f 0,#0065ff 7px,#00bfff 14px,#0df 21px,#04fffb 42px,#07fff8 49px)"></i><i style="left:865px;height:47px;background:linear-gradient(#0068ff 0,#0079ff 7px,#00f6ff 14px,#20ffdf 49px)"></i><i style="left:867px;height:47px;background:linear-gradient(#0054ff 0,#006cff 7px,#00ecff 14px,#15ffea 49px)"></i><i style="left:869px;height:45px;background:linear-gradient(#005eff 0,#007cff 7px,#00feff 14px,#27ffd8 49px)"></i><i style="left:871px;height:44px;background:linear-gradient(#0053ff 0,#07f 7px,#00fcff 14px,#2fd 42px)"></i><i style="left:873px;height:43px;background:linear-gradient(#0052ff 0,#007cff 7px,#05fffa 14px,#2affd5 42px)"></i><i style="left:875px;height:42px;background:linear-gradient(#0047ff 0,#07f 7px,#03fffc 14px,#27ffd8 42px)"></i><i style="left:877px;height:42px;background:linear-gradient(#004fff 0,#0070ff 7px,#18ffe7 14px,#32ffcd 21px,#4fffb0 42px)"></i><i style="left:879px;height:40px;background:linear-gradient(#0036ff 0,#0048ff 7px,#0cfff3 14px,#37ffc8 21px,#5fa 42px)"></i><i style="left:881px;height:38px;background:linear-gradient(#0032ff 0,#0047ff 7px,#03fffc 14px,#3fc 21px,#50ffaf 42px)"></i><i style="left:883px;height:39px;background:linear-gradient(#0042ff 0,#005aff 7px,#0efff1 14px,#45ffba 21px,#60ff9f 42px)"></i><i style="left:885px;height:41px;background:linear-gradient(#0034ff 0,#0051ff 7px,#00fbff 14px,#39ffc6 21px,#53ffac 42px)"></i><i style="left:887px;height:42px;background:linear-gradient(#0036ff 0,#0056ff 7px,#00f8ff 14px,#3cffc3 21px,#5fa 42px)"></i><i style="left:889px;height:43px;background:linear-gradient(#0048ff 0,#0074ff 7px,#06fff9 14px,#2cffd3 21px,#42ffbd 42px)"></i><i style="left:891px;height:44px;background:linear-gradient(#0059ff 0,#0091ff 7px,#13ffec 14px,#2fffd0 42px)"></i><i style="left:893px;height:44px;background:linear-gradient(#05f 0,#008dff 7px,#10ffef 14px,#2bffd4 42px)"></i><i style="left:895px;height:44px;background:linear-gradient(#005eff 0,#0096ff 7px,#18ffe7 14px,#34ffcb 42px)"></i><i style="left:897px;height:43px;background:linear-gradient(#006aff 0,#00a2ff 7px,#24ffdb 14px,#40ffbf 42px)"></i><i style="left:899px;height:43px;background:linear-gradient(#005aff 0,#0087ff 7px,#00efff 14px,#19ffe6 21px,#3fc 42px)"></i><i style="left:901px;height:42px;background:linear-gradient(#0043ff 0,#0059ff 7px,#0090ff 14px,#00fcff 21px,#21ffde 42px)"></i><i style="left:903px;height:41px;background:linear-gradient(#0040ff 0,#004aff 7px,#06f 14px,#0ef 21px,#1fffe0 42px)"></i><i style="left:905px;height:39px;background:linear-gradient(#03f 0,#0053ff 14px,#00cfff 21px,#00f1ff 28px,#0dfff2 42px)"></i><i style="left:907px;height:37px;background:linear-gradient(#0041ff 0,#005bff 14px,#00caff 21px,#00f8ff 28px,#0cfff3 35px)"></i><i style="left:909px;height:38px;background:linear-gradient(#0038ff 0,#004dff 14px,#00afff 21px,#00eaff 28px,#07fff8 42px)"></i><i style="left:911px;height:38px;background:linear-gradient(#0031ff 0,#0042ff 14px,#08f 21px,#00d0ff 28px,#00e8ff 35px,#00f0ff 42px)"></i><i style="left:913px;height:38px;background:linear-gradient(#0037ff 0,#0045ff 14px,#0061ff 21px,#00b7ff 28px,#00d6ff 35px,#00dcff 42px)"></i><i style="left:915px;height:38px;background:linear-gradient(#0034ff 0,#0048ff 21px,#00a2ff 28px,#00c5ff 35px,#00c9ff 42px)"></i><i style="left:917px;height:37px;background:linear-gradient(#002dff 0,#0041ff 21px,#0097ff 28px,#00b8ff 35px)"></i><i style="left:919px;height:35px;background:linear-gradient(#002eff 0,#0042ff 21px,#0094ff 28px,#00b4ff 35px)"></i><i style="left:921px;height:33px;background:linear-gradient(#0032ff 0,#0045ff 21px,#0093ff 28px,#00b2ff 35px)"></i><i style="left:923px;height:32px;background:linear-gradient(#03f 0,#0045ff 21px,#0090ff 28px,#00adff 35px)"></i><i style="left:925px;height:32px;background:linear-gradient(#001bff 0,#0037ff 21px,#006eff 28px,#0081ff 35px)"></i><i style="left:927px;height:31px;background:linear-gradient(#0007ff 0,#0017ff 14px,#002bff 21px,#004fff 28px,#0059ff 35px)"></i><i style="left:929px;height:31px;background:linear-gradient(#0024ff 0,#0034ff 14px,#0047ff 21px,#006aff 28px,#0073ff 35px)"></i><i style="left:931px;height:31px;background:linear-gradient(#0016ff 0,#0026ff 14px,#0039ff 21px,#005bff 28px,#0064ff 35px)"></i><i style="left:933px;height:31px;background:linear-gradient(#0014ff 0,#0024ff 14px,#0037ff 21px,#0059ff 28px,#0060ff 35px)"></i><i style="left:935px;height:31px;background:linear-gradient(#0017ff 0,#0027ff 14px,#0039ff 21px,#005bff 28px,#0061ff 35px)"></i><i style="left:937px;height:29px;background:linear-gradient(#000fff 0,#001fff 14px,#0031ff 21px,#0052ff 28px)"></i><i style="left:939px;height:28px;background:linear-gradient(#0007ff 0,#001eff 21px,#03f 28px)"></i><i style="left:941px;height:28px;background:#0000d9"></i><i style="left:943px;height:29px;background:#0000de"></i><i style="left:945px;height:29px;background:#0000d3"></i><i style="left:947px;height:29px;background:#0000e0"></i><i style="left:949px;height:29px;background:#0000d4"></i><i style="left:951px;height:29px;background:#00d"></i></div></div><div class="cb" style="top:371px"></div><span class="t y r" style="left:-115px;top:269.5px">0</span><span class="t y r" style="left:-115px;top:298.5px">20</span><span class="t y r" style="left:-115px;top:331px">40</span><span class="t y r" style="left:-115px;top:364px">60</span><span class="t y r" style="left:-115px;top:396.5px">80</span><span class="t y r" style="left:-115px;top:424.5px">100</span><span class="yl" style="top:347.5px">Pressure (dbar)</span><span class="t" style="left:-6.6px;top:462.5px">25</span><span class="t" style="left:-7px;top:475.5px">Feb</span><span class="t" style="left:105.02px;top:462.5px">1</span><span class="t" style="left:102.12px;top:475.5px">Mar</span><span class="t" style="left:215.14px;top:462.5px">5</span><span class="t" style="left:348.04px;top:462.5px">10</span><span class="t" style="left:484.44px;top:462.5px">15</span><span class="t" style="left:620.84px;top:462.5px">20</span><span class="t" style="left:757.24px;top:462.5px">25</span><span class="t" style="left:893.64px;top:462.5px">30</span><span class="c n" style="left:19px;top:401px">32.0</span><span class="c n" style="left:79.75px;top:401px">32.5</span><span class="c n" style="left:140.5px;top:401px">33.0</span><span class="c n" style="left:201.25px;top:401px">33.5</span><span class="c n" style="left:262px;top:401px">34.0</span><span class="c" style="left:141px;top:416px">Salinity (PSU)</span><div class="f" style="top:507px;clip-path:polygon(133px 12px,133px 50.3px,138.75px 50.3px,139.9px 52.5px,141px 61px,142.4px 78.75px,144px 81px,144px 118px,149px 118px,149px 108.5px,153.6px 108px,153.6px 75px,157px 66px,160.75px 72.5px,162.4px 85px,164.9px 86px,165.25px 105px,167px 107.5px,167px 118px,172px 118px,172px 95px,173.6px 93.75px,174.5px 78.75px,177.4px 73px,179.9px 75.6px,184.25px 76.25px,185.5px 82.5px,187.4px 83.75px,189.25px 79.4px,195px 81.25px,202.5px 77px,207.5px 79.5px,220px 80px,235px 81.25px,242.5px 80.5px,245.75px 77px,250px 80.5px,255px 84.5px,260px 79.5px,265px 83.75px,270px 88px,273.75px 89.5px,276.25px 86.25px,280px 90.5px,285px 92px,285.75px 108.75px,290px 114.5px,297.5px 115.5px,303.75px 107px,310px 110.5px,320px 113.75px,325px 116.25px,326px 118px,332.5px 118px,333px 107px,334px 118px,340px 117px,346.25px 113.75px,352.5px 106.25px,355px 108.75px,363.75px 105px,368.75px 101.5px,370px 107.5px,375.6px 111.7px,377.2px 110.2px,378.75px 113.3px,383.4px 111px,388px 112.5px,394.4px 117.2px,402.2px 120.3px,408.4px 121.9px,410px 126.25px,417.8px 127.3px,421px 132.8px,423.3px 136px,425.6px 132.8px,426.4px 126.6px,429.5px 121.9px,435px 125.8px,441.25px 125px,445px 127px,454.4px 121.6px,457.5px 115.3px,460.6px 107.5px,463.75px 106px,463.75px 95px,468.4px 93.4px,474px 92px,474.7px 82.5px,477.8px 77px,486.4px 78.6px,488px 74.7px,495px 73px,501.25px 70.8px,505px 66px,509px 70px,514.5px 67.2px,520px 68.4px,521.6px 71.6px,528.6px 70.8px,530px 68px,535.6px 63.4px,538.75px 65.3px,539.5px 69.7px,542.7px 70px,543.4px 81px,548px 84px,557.5px 86.4px,559.8px 91px,562px 90.3px,563.4px 82.2px,572.3px 81.25px,574px 85.6px,578.6px 89.5px,579.4px 95px,583.3px 98px,585.6px 103.6px,592px 109px,597.3px 110.6px,598px 116px,605px 117.7px,607.3px 120.6px,611.25px 128.4px,615px 133px,618.3px 140px,620.3px 141.5px,620.6px 151px,624.5px 151px,624.6px 137px,627.7px 139.4px,633px 140px,634px 143.3px,638.6px 144px,639.4px 161px,642px 164px,644px 165.5px,646.4px 159px,649.5px 158px,650.3px 143.3px,655px 140px,659px 138.6px,659.7px 132.3px,661.25px 132.3px,661.25px 143.3px,667.5px 143.3px,667.5px 133px,670.6px 132.3px,671.4px 120.6px,673.3px 120.6px,673.3px 143.3px,677.7px 143.3px,678px 120px,681.6px 117.5px,687.8px 117.5px,690px 120.6px,693.3px 117.5px,703.4px 116.7px,709px 118.75px,712px 116.7px,715px 111.25px,719.8px 109.7px,721.4px 105px,724.5px 101.9px,728.4px 98.75px,730.8px 100.3px,739.4px 99px,744px 100.6px,748px 98px,749.5px 91px,755px 90.2px,755.5px 84px,757px 84px,757px 91.7px,762px 91.7px,762.8px 76px,767.8px 73.4px,779.5px 70.4px,789.3px 71.4px,792.2px 66px,797px 72.4px,801px 81.5px,806.9px 79.2px,808.8px 69.5px,811.75px 64.6px,813.7px 69.5px,817.6px 63.6px,827.4px 62px,831.3px 56.75px,836.2px 50px,844px 49px,847px 42.5px,857.7px 42px,858.6px 54.8px,867.4px 57.7px,870.4px 54.2px,878.2px 51.9px,882px 47px,887px 51.5px,893.8px 54.8px,902.6px 51.9px,908.4px 46.4px,912.3px 49px,916.25px 48.4px,920px 44px,926px 41.7px,935.8px 41px,938.7px 38.2px,947.5px 39.8px,953px 39.2px,953px 12px)"><div class="cols" style="top:12px"><i style="left:133px;height:40px;background:linear-gradient(#0042ff 0,#007cff 7px,#ffdc00 14px,#ff9b00 21px,#ff9b00 42px)"></i><i style="left:135px;height:40px;background:linear-gradient(#003fff 0,#0096ff 7px,#ffc800 14px,#ffa700 21px,#ffa700 42px)"></i><i style="left:137px;height:40px;background:linear-gradient(#05f 0,#00c9ff 7px,#f90 14px,#f90 42px)"></i><i style="left:139px;height:50px;background:linear-gradient(#ffe400 0,#ff9c00 7px,#ff8200 42px,#ff8200 49px)"></i><i style="left:141px;height:69px;background:linear-gradient(#70ff8f 0,#ffb400 7px,#ff8700 14px,#ff6700 70px)"></i><i style="left:143px;height:107px;background:linear-gradient(#18ffe7 0,#ffc400 7px,#ff8400 14px,#ff4b00 91px,#ff3f00 112px)"></i><i style="left:145px;height:107px;background:linear-gradient(#16ffe9 0,#ffc500 7px,#ff8600 14px,#ff4d00 91px,#ff4100 112px)"></i><i style="left:147px;height:107px;background:linear-gradient(#f90 0,#ff5e00 84px,#ff4f00 112px)"></i><i style="left:149px;height:98px;background:linear-gradient(#ffa500 0,#ff6900 98px)"></i><i style="left:151px;height:98px;background:linear-gradient(#ff9f00 0,#ff6d00 98px)"></i><i style="left:153px;height:98px;background:linear-gradient(#ff9300 0,#ff6a00 98px)"></i><i style="left:155px;height:61px;background:linear-gradient(#ff8e00 0,#ff7600 63px)"></i><i style="left:157px;height:59px;background:linear-gradient(#ff8b00 0,#f70 63px)"></i><i style="left:159px;height:64px;background:linear-gradient(#ff8100 0,#ff6e00 63px)"></i><i style="left:161px;height:75px;background:linear-gradient(#ff6300 0,#ff4f00 77px)"></i><i style="left:163px;height:80px;background:linear-gradient(#ff7400 0,#ff5c00 84px)"></i><i style="left:165px;height:97px;background:linear-gradient(#ff7200 0,#ff5200 98px)"></i><i style="left:167px;height:107px;background:linear-gradient(#ff7100 0,#ff4800 112px)"></i><i style="left:169px;height:107px;background:linear-gradient(#ff6c00 0,#ff3d00 112px)"></i><i style="left:171px;height:107px;background:linear-gradient(#ff8200 0,#ff5f00 112px)"></i><i style="left:173px;height:84px;background:linear-gradient(#ffa100 0,#ff8c00 84px)"></i><i style="left:175px;height:67px;background:linear-gradient(#ff9800 0,#ff8500 70px)"></i><i style="left:177px;height:64px;background:linear-gradient(#ff9000 0,#ff7d00 63px)"></i><i style="left:179px;height:65px;background:linear-gradient(#f70 0,#ff4f00 63px)"></i><i style="left:181px;height:66px;background:linear-gradient(#ff3d00 0,#ff0800 42px,#ec0000 70px)"></i><i style="left:183px;height:69px;background:linear-gradient(#ff4000 0,#ff0300 49px,#e00 70px)"></i><i style="left:185px;height:73px;background:linear-gradient(#ff4600 0,#ff0a00 49px,#f50000 70px,#f50000 77px)"></i><i style="left:187px;height:73px;background:linear-gradient(#ff3f00 0,#ff0300 49px,#ed0000 70px,#ed0000 77px)"></i><i style="left:189px;height:69px;background:linear-gradient(#ff4f00 0,#ff1400 49px,#fe0000 70px)"></i><i style="left:191px;height:70px;background:linear-gradient(#ff4800 0,#ff0e00 49px,#f70000 70px)"></i><i style="left:193px;height:71px;background:linear-gradient(#ff4300 0,#ff0900 49px,#f20000 70px)"></i><i style="left:195px;height:71px;background:linear-gradient(#ff3200 0,#fa0000 56px,#eb0000 70px)"></i><i style="left:197px;height:70px;background:linear-gradient(#ff2600 0,#ff0d00 42px,#e80000 70px)"></i><i style="left:199px;height:68px;background:linear-gradient(#ff2700 0,#ff0d00 42px,#e90000 70px)"></i><i style="left:201px;height:67px;background:linear-gradient(#ff1800 0,#fe0000 42px,#da0000 70px)"></i><i style="left:203px;height:68px;background:linear-gradient(#ff2900 0,#ff0f00 42px,#eb0000 70px)"></i><i style="left:205px;height:69px;background:linear-gradient(#ff2300 0,#ff0a00 42px,#e50000 70px)"></i><i style="left:207px;height:69px;background:linear-gradient(#ff2000 0,#ff0600 42px,#e20000 70px)"></i><i style="left:209px;height:69px;background:linear-gradient(#ff2300 0,#ff0900 42px,#e50000 70px)"></i><i style="left:211px;height:69px;background:linear-gradient(#ff2e00 0,#ff1500 42px,#f00000 70px)"></i><i style="left:213px;height:69px;background:linear-gradient(#ff2f00 0,#ff1500 42px,#f10000 70px)"></i><i style="left:215px;height:69px;background:linear-gradient(#ff2300 0,#ff0900 42px,#e50000 70px)"></i><i style="left:217px;height:69px;background:linear-gradient(#ff2500 0,#ff0c00 42px,#e80000 70px)"></i><i style="left:219px;height:70px;background:linear-gradient(#ff2100 0,#ff0700 42px,#e30000 70px)"></i><i style="left:221px;height:70px;background:linear-gradient(#ff1e00 0,#ff0400 42px,#e00000 70px)"></i><i style="left:223px;height:70px;background:linear-gradient(#ff1d00 0,#ff0400 42px,#e00000 70px)"></i><i style="left:225px;height:70px;background:linear-gradient(#ff2700 0,#ff0e00 42px,#ea0000 70px)"></i><i style="left:227px;height:70px;background:linear-gradient(#ff2a00 0,#f10 42px,#ed0000 70px)"></i><i style="left:229px;height:70px;background:linear-gradient(#ff1b00 0,#ff0100 42px,#d00 70px)"></i><i style="left:231px;height:71px;background:linear-gradient(#ff2000 0,#ff0700 42px,#e30000 70px)"></i><i style="left:233px;height:71px;background:linear-gradient(#ff1c00 0,#ff0300 42px,#de0000 70px)"></i><i style="left:235px;height:71px;background:linear-gradient(#ff2e00 0,#ff0100 49px,#e60000 70px)"></i><i style="left:237px;height:71px;background:linear-gradient(#ff4300 0,#ff0b00 42px,#e80000 70px)"></i><i style="left:239px;height:70px;background:linear-gradient(#ff5100 0,#ff1900 42px,#f50000 70px)"></i><i style="left:241px;height:70px;background:linear-gradient(#f50 0,#ff1d00 42px,#fa0000 70px)"></i><i style="left:243px;height:69px;background:linear-gradient(#ff5100 0,#ff1900 42px,#f50000 70px)"></i><i style="left:245px;height:68px;background:linear-gradient(#f50 0,#ff1d00 42px,#fa0000 70px)"></i><i style="left:247px;height:69px;background:linear-gradient(#ff4300 0,#ff0900 49px,#ed0000 70px)"></i><i style="left:249px;height:71px;background:linear-gradient(#ff2e00 0,#f00 49px,#e00000 70px)"></i><i style="left:251px;height:72px;background:linear-gradient(#ff3100 0,#ff0400 49px,#e40000 70px)"></i><i style="left:253px;height:74px;background:linear-gradient(#ff2300 0,#f50000 49px,#d10000 77px)"></i><i style="left:255px;height:74px;background:linear-gradient(#ff2500 0,#f70000 49px,#d40000 77px)"></i><i style="left:257px;height:72px;background:linear-gradient(#ff3600 0,#ff0800 49px,#e90000 70px)"></i><i style="left:259px;height:70px;background:linear-gradient(#ff3a00 0,#ff0d00 49px,#e00 70px)"></i><i style="left:261px;height:72px;background:linear-gradient(#f40 0,#ff1600 49px,#f80000 70px)"></i><i style="left:263px;height:73px;background:linear-gradient(#ff4800 0,#ff1b00 49px,#f60000 77px)"></i><i style="left:265px;height:75px;background:linear-gradient(#ff3600 0,#ff0900 49px,#e40000 77px)"></i><i style="left:267px;height:77px;background:linear-gradient(#ff3200 0,#ff0500 49px,#e00000 77px)"></i><i style="left:269px;height:78px;background:linear-gradient(#ff3000 0,#ff0300 49px,#de0000 77px)"></i><i style="left:271px;height:79px;background:linear-gradient(#ff2500 0,#f80000 49px,#d40000 77px)"></i><i style="left:273px;height:79px;background:linear-gradient(#ff4100 0,#ff0900 56px,#ed0000 77px)"></i><i style="left:275px;height:77px;background:linear-gradient(#ff4800 0,#ff1300 49px,#f00000 77px)"></i><i style="left:277px;height:79px;background:linear-gradient(#ff5700 0,#ff1e00 49px,#fc0000 77px)"></i><i style="left:279px;height:80px;background:linear-gradient(#ff7100 0,#ff3800 49px,#ff1500 84px)"></i><i style="left:281px;height:81px;background:linear-gradient(#ff6e00 0,#ff4100 42px,#ff1a00 70px,#ff1200 84px)"></i><i style="left:283px;height:81px;background:linear-gradient(#ff7600 0,#ff4b00 42px,#ff2600 63px,#ff1900 84px)"></i><i style="left:285px;height:100px;background:linear-gradient(#ff8300 0,#ff5900 42px,#ff3100 63px,#ff1f00 98px)"></i><i style="left:287px;height:103px;background:linear-gradient(#ff8300 0,#ff5b00 42px,#ff3700 56px,#ff1e00 105px)"></i><i style="left:289px;height:104px;background:linear-gradient(#ff8a00 0,#ff6f00 35px,#ff3a00 56px,#ff1b00 105px)"></i><i style="left:291px;height:104px;background:linear-gradient(#ff8b00 0,#ff6f00 35px,#ff3600 56px,#f10 105px)"></i><i style="left:293px;height:105px;background:linear-gradient(#ff8c00 0,#ff7100 35px,#ff3800 56px,#ff1400 105px)"></i><i style="left:295px;height:105px;background:linear-gradient(#ff9700 0,#ff7b00 35px,#ff4200 56px,#ff1f00 105px)"></i><i style="left:297px;height:105px;background:linear-gradient(#ff8400 0,#ff6800 35px,#ff2f00 56px,#ff0e00 105px)"></i><i style="left:299px;height:103px;background:linear-gradient(#ff8700 0,#ff6c00 35px,#ff3200 56px,#ff1200 105px)"></i><i style="left:301px;height:100px;background:linear-gradient(#ff9200 0,#f70 35px,#ff3d00 56px,#ff2000 98px)"></i><i style="left:303px;height:98px;background:linear-gradient(#ff8900 0,#ff6e00 35px,#ff3400 56px,#ff1800 98px)"></i><i style="left:305px;height:98px;background:linear-gradient(#ff8500 0,#ff6a00 35px,#ff3000 56px,#ff1500 98px)"></i><i style="left:307px;height:99px;background:linear-gradient(#ff9e00 0,#ff8200 35px,#ff4900 56px,#ff2e00 98px)"></i><i style="left:309px;height:100px;background:linear-gradient(#ff9800 0,#ff7d00 35px,#ff4300 56px,#ff2a00 98px)"></i><i style="left:311px;height:101px;background:linear-gradient(#ffb100 0,#ff9b00 35px,#ff6000 56px,#ff4a00 70px,#f30 105px)"></i><i style="left:313px;height:102px;background:linear-gradient(#ffc200 0,#ffb000 35px,#ff7400 56px,#ff5d00 63px,#ff3400 105px)"></i><i style="left:315px;height:102px;background:linear-gradient(#ffcd00 0,#fb0 35px,#ff8500 56px,#f60 70px,#ff3f00 105px)"></i><i style="left:317px;height:103px;background:linear-gradient(#ffdb00 0,#ffc900 35px,#f90 56px,#ff6700 84px,#ff4d00 105px)"></i><i style="left:319px;height:104px;background:linear-gradient(#ffd600 0,#ffc400 35px,#ff9300 56px,#ff5c00 84px,#ff3d00 105px)"></i><i style="left:321px;height:105px;background:linear-gradient(#ffec00 0,#ffda00 35px,#ffa200 56px,#ff7100 77px,#ff4000 105px)"></i><i style="left:323px;height:106px;background:linear-gradient(#ffe800 0,#ffd600 35px,#f90 56px,#ff6700 77px,#f30 105px)"></i><i style="left:325px;height:107px;background:linear-gradient(#ffda00 0,#ffc700 35px,#ff8b00 56px,#ff5a00 77px,#ff2800 105px,#ff2800 112px)"></i><i style="left:327px;height:107px;background:linear-gradient(#ffef00 0,#ffdb00 35px,#ff9f00 56px,#ff6400 84px,#ff4000 105px,#ff4000 112px)"></i><i style="left:329px;height:107px;background:linear-gradient(#fff400 0,#ffe000 35px,#ffa300 56px,#ff6a00 84px,#ff4800 105px,#ff4800 112px)"></i><i style="left:331px;height:107px;background:linear-gradient(#fff300 0,#ffde00 35px,#ffa200 56px,#ff6b00 84px,#ff4a00 105px,#ff4a00 112px)"></i><i style="left:333px;height:107px;background:linear-gradient(#fffc00 0,#ffe600 35px,#fa0 56px,#ff7600 84px,#ff5600 105px,#ff5600 112px)"></i><i style="left:335px;height:107px;background:linear-gradient(#fff700 0,#ffe000 35px,#ffa400 56px,#ff6800 91px,#ff5400 105px)"></i><i style="left:337px;height:107px;background:linear-gradient(#fff900 0,#ffe200 35px,#ffa600 56px,#ff6c00 91px,#ff5900 105px)"></i><i style="left:339px;height:107px;background:linear-gradient(#ffe700 0,#ffcf00 35px,#ff9300 56px,#ff5c00 91px,#ff4a00 105px)"></i><i style="left:341px;height:106px;background:linear-gradient(#fff300 0,#ffda00 35px,#ff9e00 56px,#ff6200 98px,#ff5900 105px)"></i><i style="left:343px;height:105px;background:linear-gradient(#ffe500 0,#ffce00 35px,#ff9b00 56px,#ff6400 98px,#ff5d00 105px)"></i><i style="left:345px;height:104px;background:linear-gradient(#ffc800 0,#ffac00 42px,#ff7400 84px,#ff6100 105px)"></i><i style="left:347px;height:102px;background:linear-gradient(#ffa800 0,#ff8c00 56px,#ff6200 98px,#ff6200 105px)"></i><i style="left:349px;height:100px;background:linear-gradient(#ffb600 0,#ff9a00 56px,#ff7000 98px)"></i><i style="left:351px;height:98px;background:linear-gradient(#ffad00 0,#ff8a00 63px,#ff6700 98px)"></i><i style="left:353px;height:98px;background:linear-gradient(#ffa500 0,#ff8200 63px,#ff6000 98px)"></i><i style="left:355px;height:98px;background:linear-gradient(#ffaf00 0,#ff8c00 63px,#ff6b00 98px)"></i><i style="left:357px;height:97px;background:linear-gradient(#ffa600 0,#ff8400 63px,#ff6300 98px)"></i><i style="left:359px;height:97px;background:linear-gradient(#ffa900 0,#ff8700 63px,#ff6700 98px)"></i><i style="left:361px;height:96px;background:linear-gradient(#ffb000 0,#ff8f00 63px,#ff6f00 98px)"></i><i style="left:363px;height:95px;background:linear-gradient(#ffa200 0,#ff8100 63px,#ff6200 98px)"></i><i style="left:365px;height:94px;background:linear-gradient(#ffaf00 0,#ff8e00 63px,#ff6f00 98px)"></i><i style="left:367px;height:92px;background:linear-gradient(#ffb000 0,#ff8f00 63px,#f70 91px)"></i><i style="left:369px;height:98px;background:linear-gradient(#ffb400 0,#ff9300 63px,#ff7500 98px)"></i><i style="left:371px;height:99px;background:linear-gradient(#ffab00 0,#ff8400 70px,#ff6d00 98px)"></i><i style="left:373px;height:101px;background:linear-gradient(#ffac00 0,#ff8600 70px,#ff6e00 105px)"></i><i style="left:375px;height:101px;background:linear-gradient(#ffa600 0,#ff8100 70px,#ff6a00 105px)"></i><i style="left:377px;height:103px;background:linear-gradient(#ff9c00 0,#f70 70px,#ff6000 105px)"></i><i style="left:379px;height:103px;background:linear-gradient(#ff8500 0,#ff6100 70px,#ff4a00 105px)"></i><i style="left:381px;height:102px;background:linear-gradient(#f80 0,#ff6500 70px,#ff4e00 105px)"></i><i style="left:383px;height:101px;background:linear-gradient(#ff8700 0,#ff6500 70px,#ff4f00 105px)"></i><i style="left:385px;height:102px;background:linear-gradient(#ff8d00 0,#f60 77px,#ff5600 105px)"></i><i style="left:387px;height:103px;background:linear-gradient(#f80 0,#ff6200 77px,#ff5200 105px)"></i><i style="left:389px;height:104px;background:linear-gradient(#ff9f00 0,#ff7a00 77px,#ff6a00 105px)"></i><i style="left:391px;height:106px;background:linear-gradient(#ffa300 0,#ff7f00 77px,#ff6f00 105px)"></i><i style="left:393px;height:107px;background:linear-gradient(#ff9b00 0,#ff7800 77px,#ff6800 105px)"></i><i style="left:395px;height:108px;background:linear-gradient(#ff9b00 0,#ff7900 77px,#ff6900 112px)"></i><i style="left:397px;height:109px;background:linear-gradient(#ff9d00 0,#ff7c00 77px,#ff6b00 112px)"></i><i style="left:399px;height:109px;background:linear-gradient(#ffa000 0,#ff7b00 84px,#ff6f00 112px)"></i><i style="left:401px;height:110px;background:linear-gradient(#ff9600 0,#ff7300 84px,#f60 112px)"></i><i style="left:403px;height:111px;background:linear-gradient(#ff8e00 0,#ff6b00 84px,#ff5f00 112px)"></i><i style="left:405px;height:111px;background:linear-gradient(#ff9600 0,#ff7400 84px,#ff6800 112px)"></i><i style="left:407px;height:113px;background:linear-gradient(#ff9700 0,#ff7300 91px,#ff6a00 112px)"></i><i style="left:409px;height:116px;background:linear-gradient(#ff8b00 0,#ff6800 91px,#ff5e00 119px)"></i><i style="left:411px;height:116px;background:linear-gradient(#ff9100 0,#ff7000 91px,#ff6500 119px)"></i><i style="left:413px;height:116px;background:linear-gradient(#ff9000 0,#ff6a00 105px,#ff6500 119px)"></i><i style="left:415px;height:117px;background:linear-gradient(#ff8e00 0,#ff6800 105px,#ff6300 119px)"></i><i style="left:417px;height:119px;background:linear-gradient(#ffa100 0,#ff7d00 105px,#f70 119px)"></i><i style="left:419px;height:122px;background:linear-gradient(#ff8b00 0,#ff6800 105px,#ff6200 126px)"></i><i style="left:421px;height:125px;background:linear-gradient(#ff5c00 0,#ff4800 126px)"></i><i style="left:423px;height:125px;background:linear-gradient(#ff5600 0,#ff4200 126px)"></i><i style="left:425px;height:123px;background:linear-gradient(#ff5300 0,#ff3e00 126px)"></i><i style="left:427px;height:115px;background:linear-gradient(#ff4d00 0,#ff3900 119px)"></i><i style="left:429px;height:112px;background:linear-gradient(#ff5600 0,#ff4300 112px)"></i><i style="left:431px;height:114px;background:linear-gradient(#f40 0,#ff3100 112px)"></i><i style="left:433px;height:115px;background:linear-gradient(#ff4f00 0,#ff3b00 119px)"></i><i style="left:435px;height:115px;background:linear-gradient(#ff5400 0,#ff3f00 119px)"></i><i style="left:437px;height:115px;background:linear-gradient(#f40 0,#ff2f00 119px)"></i><i style="left:439px;height:115px;background:linear-gradient(#ff6000 0,#ff4c00 119px)"></i><i style="left:441px;height:115px;background:linear-gradient(#ff5600 0,#ff4200 119px)"></i><i style="left:443px;height:116px;background:linear-gradient(#ff5e00 0,#ff4a00 119px)"></i><i style="left:445px;height:116px;background:linear-gradient(#ff6800 0,#ff5400 119px)"></i><i style="left:447px;height:115px;background:linear-gradient(#ff5100 0,#ff3d00 119px)"></i><i style="left:449px;height:114px;background:linear-gradient(#ff6200 0,#ff4e00 112px)"></i><i style="left:451px;height:113px;background:linear-gradient(#ff5200 0,#ff3f00 112px)"></i><i style="left:453px;height:112px;background:linear-gradient(#ff5100 0,#ff3e00 112px)"></i><i style="left:455px;height:110px;background:linear-gradient(#ff5600 0,#ff4200 112px)"></i><i style="left:457px;height:106px;background:linear-gradient(#ff6900 0,#ff5600 105px)"></i><i style="left:459px;height:101px;background:linear-gradient(#ff6800 0,#f50 105px)"></i><i style="left:461px;height:97px;background:linear-gradient(#ff7500 0,#ff6200 98px)"></i><i style="left:463px;height:96px;background:linear-gradient(#ff7c00 0,#ff6800 98px)"></i><i style="left:465px;height:84px;background:linear-gradient(#ff7500 0,#ff6300 84px)"></i><i style="left:467px;height:83px;background:linear-gradient(#ff6700 0,#ff5400 84px)"></i><i style="left:469px;height:83px;background:linear-gradient(#ff6d00 0,#ff5a00 84px)"></i><i style="left:471px;height:82px;background:linear-gradient(#ff6200 0,#ff4e00 84px)"></i><i style="left:473px;height:82px;background:linear-gradient(#ff6000 0,#ff4c00 84px)"></i><i style="left:475px;height:71px;background:linear-gradient(#ff6300 0,#ff4f00 70px)"></i><i style="left:477px;height:68px;background:linear-gradient(#ff6a00 0,#ff5600 70px)"></i><i style="left:479px;height:67px;background:linear-gradient(#ff8100 0,#f70 70px)"></i><i style="left:481px;height:67px;background:#ff9500"></i><i style="left:483px;height:68px;background:#ff9e00"></i><i style="left:485px;height:68px;background:#ff9100"></i><i style="left:487px;height:67px;background:#ff9e00"></i><i style="left:489px;height:64px;background:#ff9600"></i><i style="left:491px;height:63px;background:#ff9200"></i><i style="left:493px;height:63px;background:linear-gradient(#ffa600 0,#ff9700 63px)"></i><i style="left:495px;height:62px;background:linear-gradient(#ffc900 0,#ffc300 14px,#ffa300 28px,#ff9c00 63px)"></i><i style="left:497px;height:62px;background:linear-gradient(#ffd800 0,#ffd000 14px,#ffa600 28px,#ff9c00 63px)"></i><i style="left:499px;height:61px;background:linear-gradient(#ffe100 0,#ffd800 14px,#ffae00 28px,#ffa400 63px)"></i><i style="left:501px;height:60px;background:linear-gradient(#ffde00 0,#ffd600 14px,#ffac00 28px,#ffa200 63px)"></i><i style="left:503px;height:58px;background:linear-gradient(#ffe300 0,#ffda00 14px,#ffb000 28px,#ffa700 56px)"></i><i style="left:505px;height:57px;background:linear-gradient(#ffd400 0,#fc0 14px,#ffa200 28px,#ff9800 56px)"></i><i style="left:507px;height:59px;background:linear-gradient(#ffe000 0,#ffd700 14px,#ffad00 28px,#ffa300 63px)"></i><i style="left:509px;height:59px;background:linear-gradient(#ffdc00 0,#ffd300 14px,#ffa900 28px,#ff9f00 63px)"></i><i style="left:511px;height:58px;background:linear-gradient(#fe0 0,#ffe600 14px,#ffbc00 28px,#ffb200 56px)"></i><i style="left:513px;height:57px;background:linear-gradient(#ffd400 0,#fc0 14px,#ffa200 28px,#ff9800 56px)"></i><i style="left:515px;height:57px;background:linear-gradient(#ffcd00 0,#ffc500 14px,#ff9b00 28px,#ff9100 56px)"></i><i style="left:517px;height:58px;background:linear-gradient(#ffc200 0,#ffb900 14px,#ff8f00 28px,#ff8500 56px)"></i><i style="left:519px;height:60px;background:linear-gradient(#ffa900 0,#ff9800 21px,#f80 35px,#ff8100 63px)"></i><i style="left:521px;height:61px;background:linear-gradient(#ff9500 0,#ff8100 63px)"></i><i style="left:523px;height:61px;background:linear-gradient(#ff9700 0,#ff8200 63px)"></i><i style="left:525px;height:61px;background:linear-gradient(#ff9300 0,#ff7e00 63px)"></i><i style="left:527px;height:60px;background:linear-gradient(#ff9200 0,#ff7d00 63px)"></i><i style="left:529px;height:59px;background:linear-gradient(#ff9e00 0,#ff8900 63px)"></i><i style="left:531px;height:57px;background:linear-gradient(#ff9700 0,#ff8400 56px)"></i><i style="left:533px;height:55px;background:linear-gradient(#ffa200 0,#ff8f00 56px)"></i><i style="left:535px;height:54px;background:linear-gradient(#f90 0,#ff8500 56px)"></i><i style="left:537px;height:56px;background:linear-gradient(#ff9d00 0,#ff8a00 56px)"></i><i style="left:539px;height:59px;background:linear-gradient(#ff8d00 0,#ff7600 63px)"></i><i style="left:541px;height:64px;background:linear-gradient(#ff8400 0,#ff6c00 63px)"></i><i style="left:543px;height:72px;background:linear-gradient(#ff9600 0,#ff7e00 63px,#ff7a00 70px)"></i><i style="left:545px;height:73px;background:linear-gradient(#ff9100 0,#ff7900 63px,#ff7000 77px)"></i><i style="left:547px;height:74px;background:linear-gradient(#ffa700 0,#ff8e00 63px,#ff8500 77px)"></i><i style="left:549px;height:74px;background:linear-gradient(#ffa400 0,#ff9100 56px,#ff8100 77px)"></i><i style="left:551px;height:75px;background:linear-gradient(#ff8e00 0,#ff7b00 56px,#ff6a00 77px)"></i><i style="left:553px;height:75px;background:linear-gradient(#ff9b00 0,#f80 56px,#ff7600 77px)"></i><i style="left:555px;height:76px;background:linear-gradient(#ff9400 0,#ff8100 56px,#ff6e00 77px)"></i><i style="left:557px;height:79px;background:linear-gradient(#ffa000 0,#ff8d00 56px,#ff7800 77px)"></i><i style="left:559px;height:80px;background:linear-gradient(#ff9700 0,#ff8400 56px,#ff6e00 84px)"></i><i style="left:561px;height:80px;background:linear-gradient(#ff9d00 0,#ff8d00 49px,#ff7000 84px)"></i><i style="left:563px;height:74px;background:linear-gradient(#ff9200 0,#ff7e00 49px,#ff6300 77px)"></i><i style="left:565px;height:72px;background:linear-gradient(#ff9e00 0,#ff8c00 42px,#ff7000 70px)"></i><i style="left:567px;height:71px;background:linear-gradient(#ff8900 0,#ff7e00 35px,#ff5800 70px)"></i><i style="left:569px;height:71px;background:linear-gradient(#ff9b00 0,#ff9000 35px,#ff6c00 63px,#f60 70px)"></i><i style="left:571px;height:73px;background:linear-gradient(#ff8f00 0,#ff8200 35px,#ff6100 56px,#ff5000 77px)"></i><i style="left:573px;height:76px;background:linear-gradient(#ff9b00 0,#ff8e00 35px,#ff6e00 49px,#ff5900 77px)"></i><i style="left:575px;height:78px;background:linear-gradient(#ff9600 0,#f80 35px,#ff6400 49px,#ff5000 77px)"></i><i style="left:577px;height:82px;background:linear-gradient(#ff9500 0,#ff8600 35px,#ff5f00 49px,#ff4a00 84px)"></i><i style="left:579px;height:86px;background:linear-gradient(#ffa700 0,#ff9700 35px,#ff6c00 49px,#ff5700 84px)"></i><i style="left:581px;height:87px;background:linear-gradient(#ffb300 0,#ffa200 35px,#ff7200 49px,#ff5d00 91px)"></i><i style="left:583px;height:92px;background:linear-gradient(#ffa500 0,#ff9300 35px,#ff5f00 49px,#ff4b00 91px)"></i><i style="left:585px;height:94px;background:linear-gradient(#ff9c00 0,#ff8a00 35px,#ff5400 49px,#ff4000 98px)"></i><i style="left:587px;height:96px;background:linear-gradient(#f90 0,#ff8700 35px,#ff5300 49px,#ff3c00 98px)"></i><i style="left:589px;height:98px;background:linear-gradient(#ff9400 0,#ff8200 35px,#ff4f00 49px,#ff3600 98px)"></i><i style="left:591px;height:99px;background:linear-gradient(#ffa500 0,#ff9300 35px,#ff6100 49px,#ff4700 91px,#ff4600 98px)"></i><i style="left:593px;height:99px;background:linear-gradient(#ff9500 0,#ff8200 35px,#ff5100 49px,#ff3f00 70px,#ff3500 98px)"></i><i style="left:595px;height:100px;background:linear-gradient(#ff9f00 0,#ff8c00 35px,#ff5c00 49px,#ff4b00 63px,#ff3e00 98px)"></i><i style="left:597px;height:106px;background:linear-gradient(#ffb200 0,#ffa000 35px,#ff7100 49px,#ff6100 56px,#ff4e00 105px)"></i><i style="left:599px;height:106px;background:linear-gradient(#ff9d00 0,#ff8b00 35px,#ff5c00 49px,#ff4b00 56px,#ff3800 105px)"></i><i style="left:601px;height:107px;background:linear-gradient(#ffb300 0,#ffa100 35px,#ff6500 56px,#ff4d00 105px)"></i><i style="left:603px;height:107px;background:linear-gradient(#ffb500 0,#ffa300 35px,#ff9700 42px,#ff6b00 56px,#ff4d00 105px)"></i><i style="left:605px;height:110px;background:linear-gradient(#ffca00 0,#ffaf00 42px,#f70 63px,#ff5f00 112px)"></i><i style="left:607px;height:113px;background:linear-gradient(#ffc200 0,#fa0 42px,#ff7000 63px,#f50 112px)"></i><i style="left:609px;height:117px;background:linear-gradient(#ffc600 0,#ffb100 42px,#ff7400 63px,#ff5700 119px)"></i><i style="left:611px;height:120px;background:linear-gradient(#ffcf00 0,#ffbc00 42px,#ff8100 63px,#ff5f00 119px)"></i><i style="left:613px;height:122px;background:linear-gradient(#fff200 0,#ffdf00 42px,#ffb100 56px,#ff8000 119px,#ff7f00 126px)"></i><i style="left:615px;height:127px;background:linear-gradient(#fffc00 0,#ffe800 42px,#ffb800 56px,#ff9300 91px,#ff8200 126px)"></i><i style="left:617px;height:130px;background:linear-gradient(#fdff02 0,#fe0 42px,#ffbc00 56px,#ff9000 91px,#ff7f00 133px)"></i><i style="left:619px;height:140px;background:linear-gradient(#fdff02 0,#ffed00 42px,#ffb900 56px,#ff8b00 84px,#ff7600 140px)"></i><i style="left:621px;height:140px;background:linear-gradient(#e3ff1c 0,#fffd00 42px,#ffce00 56px,#ff9e00 84px,#ff8700 140px)"></i><i style="left:623px;height:140px;background:linear-gradient(#daff25 0,#e3ff1c 21px,#ffe100 49px,#ffa900 77px,#ff8600 140px)"></i><i style="left:625px;height:128px;background:linear-gradient(#c8ff37 0,#d0ff2f 21px,#fff900 42px,#ffbe00 70px,#ff9000 126px)"></i><i style="left:627px;height:129px;background:linear-gradient(#c1ff3e 0,#c9ff36 21px,#fffb00 42px,#ffce00 63px,#ffaf00 77px,#ff8c00 133px)"></i><i style="left:629px;height:129px;background:linear-gradient(#c1ff3e 0,#c9ff36 21px,#d8ff27 28px,#fff700 42px,#ffc800 63px,#ffa500 77px,#ff8300 133px)"></i><i style="left:631px;height:129px;background:linear-gradient(#b5ff4a 0,#bdff42 21px,#cbff34 28px,#fffe00 42px,#ffce00 63px,#ffa600 77px,#ff8600 133px)"></i><i style="left:633px;height:133px;background:linear-gradient(#a9ff56 0,#b1ff4e 21px,#bdff42 28px,#e1ff1e 35px,#fff700 49px,#ffbc00 70px,#ffa700 77px,#ff8900 133px)"></i><i style="left:635px;height:133px;background:linear-gradient(#9dff62 0,#adff52 28px,#d6ff29 35px,#f8ff07 42px,#ffd400 63px,#ffa600 77px,#ff8500 133px)"></i><i style="left:637px;height:142px;background:linear-gradient(#85ff7a 0,#92ff6d 28px,#c1ff3e 35px,#edff12 42px,#ffe000 63px,#ffb000 77px,#ff8a00 140px)"></i><i style="left:639px;height:152px;background:linear-gradient(#78ff87 0,#82ff7d 28px,#b5ff4a 35px,#ecff13 42px,#ffe100 63px,#ffaf00 77px,#ff7d00 154px)"></i><i style="left:641px;height:154px;background:linear-gradient(#80ff7f 0,#89ff76 28px,#bdff42 35px,#f4ff0b 42px,#ffda00 63px,#ffa800 77px,#ff7500 154px)"></i><i style="left:643px;height:155px;background:linear-gradient(#7eff81 0,#8f7 28px,#bf4 35px,#f2ff0d 42px,#ffdb00 63px,#ffa900 77px,#f70 154px)"></i><i style="left:645px;height:152px;background:linear-gradient(#7cff83 0,#85ff7a 28px,#b9ff46 35px,#f0ff0f 42px,#ffde00 63px,#ffac00 77px,#ff7900 154px)"></i><i style="left:647px;height:148px;background:linear-gradient(#7dff82 0,#86ff79 28px,#b9ff46 35px,#f1ff0e 42px,#fd0 63px,#ffab00 77px,#ff7a00 147px)"></i><i style="left:649px;height:148px;background:linear-gradient(#6cff93 0,#75ff8a 28px,#a9ff56 35px,#e0ff1f 42px,#fe0 63px,#ffbc00 77px,#ff8a00 147px)"></i><i style="left:651px;height:132px;background:linear-gradient(#8f7 0,#97ff68 28px,#c4ff3b 35px,#ef1 42px,#ffe600 63px,#ffb300 77px,#ff8c00 133px)"></i><i style="left:653px;height:131px;background:linear-gradient(#95ff6a 0,#9eff61 21px,#af5 28px,#d0ff2f 35px,#edff12 42px,#ffed00 63px,#fb0 77px,#ff9300 133px)"></i><i style="left:655px;height:129px;background:linear-gradient(#b3ff4c 0,#bf4 21px,#cdff32 28px,#ecff13 35px,#ffe400 63px,#ffb200 77px,#ff8a00 133px)"></i><i style="left:657px;height:129px;background:linear-gradient(#d3ff2c 0,#dbff24 21px,#fffc00 35px,#ffea00 56px,#ffbe00 70px,#ffa700 77px,#ff8200 133px)"></i><i style="left:659px;height:128px;background:linear-gradient(#dfff20 0,#edff12 28px,#fffe00 49px,#fffb00 56px,#ffc700 70px,#ffb400 77px,#ff9500 126px)"></i><i style="left:661px;height:133px;background:linear-gradient(#fff600 0,#ffec00 56px,#ffb300 70px,#ffa200 77px,#ff8600 133px)"></i><i style="left:663px;height:133px;background:linear-gradient(#fbff04 0,#fff900 56px,#ffbf00 70px,#ffa700 84px,#ff8e00 133px)"></i><i style="left:665px;height:133px;background:linear-gradient(#f4ff0b 0,#feff01 56px,#ffc400 70px,#ffa800 84px,#ff9000 133px)"></i><i style="left:667px;height:133px;background:linear-gradient(#eaff15 0,#f4ff0b 56px,#fff000 63px,#ffcd00 70px,#ffad00 84px,#ff9600 133px)"></i><i style="left:669px;height:122px;background:linear-gradient(#edff12 0,#f7ff08 56px,#ffed00 63px,#ffc800 70px,#ffa500 84px,#ff9000 126px)"></i><i style="left:671px;height:116px;background:linear-gradient(#e8ff17 0,#f1ff0e 56px,#fff200 63px,#ffcd00 70px,#ffa600 84px,#ff9300 119px)"></i><i style="left:673px;height:133px;background:linear-gradient(#e5ff1a 0,#efff10 56px,#fff400 63px,#ffce00 70px,#ffa300 84px,#ff8e00 126px,#ff8d00 133px)"></i><i style="left:675px;height:133px;background:linear-gradient(#faff05 0,#fffa00 56px,#ffde00 63px,#ffb800 70px,#ff8900 84px,#ff7600 119px,#ff7400 133px)"></i><i style="left:677px;height:133px;background:linear-gradient(#faff05 0,#fffa00 56px,#ffde00 63px,#ffb700 70px,#ff8400 84px,#ff7100 119px,#ff6f00 133px)"></i><i style="left:679px;height:109px;background:linear-gradient(#feff01 0,#fff700 56px,#ffda00 63px,#ffb200 70px,#ff7b00 84px,#ff6800 112px)"></i><i style="left:681px;height:107px;background:linear-gradient(#fbff04 0,#fff900 56px,#ffdc00 63px,#ffb300 70px,#ff7800 84px,#f60 105px)"></i><i style="left:683px;height:107px;background:linear-gradient(#ef1 0,#f8ff07 56px,#ffe800 63px,#ffbf00 70px,#ff9e00 77px,#ff8100 84px,#ff6d00 105px)"></i><i style="left:685px;height:107px;background:linear-gradient(#f6ff09 0,#ff0 56px,#ffe100 63px,#ffb000 70px,#ff7c00 77px,#ff6400 84px,#ff5400 105px)"></i><i style="left:687px;height:109px;background:linear-gradient(#f6ff09 0,#fffe00 56px,#ffe100 63px,#ffa900 70px,#ff6200 77px,#ff4e00 84px,#ff4300 112px)"></i><i style="left:689px;height:110px;background:linear-gradient(#f8ff07 0,#fffd00 56px,#ffe000 63px,#ffa000 70px,#ff4700 77px,#ff3800 84px,#ff3000 112px)"></i><i style="left:691px;height:109px;background:linear-gradient(#fcff03 0,#fff900 56px,#ffde00 63px,#ff9e00 70px,#ff4500 77px,#ff3400 84px,#ff2c00 112px)"></i><i style="left:693px;height:107px;background:linear-gradient(#ff0 0,#fff600 56px,#ffde00 63px,#ff9c00 70px,#f40 77px,#ff3100 84px,#ff2900 105px)"></i><i style="left:695px;height:107px;background:linear-gradient(#f9ff06 0,#fffc00 56px,#ffe600 63px,#ffa400 70px,#ff4c00 77px,#ff3700 84px,#ff2f00 105px)"></i><i style="left:697px;height:107px;background:linear-gradient(#faff05 0,#fffb00 56px,#ffe600 63px,#ffa400 70px,#ff4c00 77px,#ff3600 84px,#ff2e00 105px)"></i><i style="left:699px;height:107px;background:linear-gradient(#fffe00 0,#fff500 56px,#ffe200 63px,#ff9f00 70px,#ff4800 77px,#ff3000 84px,#ff2800 105px)"></i><i style="left:701px;height:106px;background:linear-gradient(#f3ff0c 0,#fcff03 56px,#fff100 63px,#ffae00 70px,#ff5700 77px,#ff3d00 84px,#ff3500 105px)"></i><i style="left:703px;height:107px;background:linear-gradient(#faff05 0,#fffb00 56px,#ffec00 63px,#ffa800 70px,#ff5200 77px,#ff3600 84px,#ff2e00 105px)"></i><i style="left:705px;height:108px;background:linear-gradient(#f6ff09 0,#fffe00 56px,#fff200 63px,#ffad00 70px,#ff5700 77px,#ff3900 84px,#ff3100 112px)"></i><i style="left:707px;height:108px;background:linear-gradient(#f8ff07 0,#fffd00 56px,#fff200 63px,#ffad00 70px,#ff5700 77px,#ff3800 84px,#ff3000 112px)"></i><i style="left:709px;height:108px;background:linear-gradient(#fdff02 0,#fff800 56px,#ffef00 63px,#fa0 70px,#ff5400 77px,#f30 84px,#ff2b00 112px)"></i><i style="left:711px;height:107px;background:linear-gradient(#ff0 0,#ffef00 63px,#ffa900 70px,#ff5400 77px,#ff3100 84px,#ff2900 105px)"></i><i style="left:713px;height:104px;background:linear-gradient(#fffc00 0,#fe0 63px,#ffa700 70px,#ff5200 77px,#ff2e00 84px,#ff2600 105px)"></i><i style="left:715px;height:101px;background:linear-gradient(#f3ff0c 0,#ff0 63px,#ffb800 70px,#ff6300 77px,#ff3d00 84px,#ff3500 105px)"></i><i style="left:717px;height:100px;background:linear-gradient(#f8ff07 0,#fffc00 63px,#ffb400 70px,#ff6000 77px,#ff3800 84px,#ff3000 98px)"></i><i style="left:719px;height:99px;background:linear-gradient(#f9ff06 0,#f9ff06 42px,#bcff43 49px,#b2ff4d 63px,#b2ff4d 98px)"></i><i style="left:721px;height:96px;background:linear-gradient(#ff0 0,#ff0 42px,#c2ff3d 49px,#b8ff47 63px,#b8ff47 98px)"></i><i style="left:723px;height:93px;background:linear-gradient(#fff400 0,#ffde00 14px,#ffc900 21px,#ffae00 91px)"></i><i style="left:725px;height:91px;background:linear-gradient(#fd0 0,#ffc700 14px,#ffb100 21px,#ff9700 91px)"></i><i style="left:727px;height:89px;background:linear-gradient(#ffdc00 0,#ffc600 14px,#ffb100 21px,#ff9600 91px)"></i><i style="left:729px;height:90px;background:linear-gradient(#ffe200 0,#fc0 14px,#ffb600 21px,#ff9c00 91px)"></i><i style="left:731px;height:90px;background:linear-gradient(#ffd900 0,#ffc300 14px,#ffad00 21px,#ff9300 91px)"></i><i style="left:733px;height:89px;background:linear-gradient(#ffd000 0,#ffba00 14px,#ffa500 21px,#ff8a00 91px)"></i><i style="left:735px;height:89px;background:linear-gradient(#ffe400 0,#ffce00 14px,#ffb800 21px,#ff9e00 91px)"></i><i style="left:737px;height:89px;background:linear-gradient(#ffe800 0,#ffd200 14px,#ffbc00 21px,#ffa200 91px)"></i><i style="left:739px;height:89px;background:linear-gradient(#ffe700 0,#ffd100 14px,#ffbc00 21px,#ffa100 91px)"></i><i style="left:741px;height:90px;background:linear-gradient(#fffb00 0,#ffe500 14px,#ffd000 21px,#ffb500 91px)"></i><i style="left:743px;height:90px;background:linear-gradient(#fff600 0,#ffe000 14px,#ffcb00 21px,#ffb000 91px)"></i><i style="left:745px;height:89px;background:linear-gradient(#ffed00 0,#ffd700 14px,#ffc200 21px,#ffa800 91px)"></i><i style="left:747px;height:88px;background:linear-gradient(#ffe900 0,#ffd300 14px,#ffbd00 21px,#ffa300 91px)"></i><i style="left:749px;height:83px;background:linear-gradient(#fd0 0,#ffc300 35px,#fb0 84px)"></i><i style="left:751px;height:80px;background:#ffd600"></i><i style="left:753px;height:80px;background:#fc0"></i><i style="left:755px;height:80px;background:#ffd700"></i><i style="left:757px;height:81px;background:#ffe100"></i><i style="left:759px;height:81px;background:#ffd800"></i><i style="left:761px;height:81px;background:#ffd000"></i><i style="left:763px;height:65px;background:#ffcf00"></i><i style="left:765px;height:64px;background:#ffdc00"></i><i style="left:767px;height:63px;background:#fc0"></i><i style="left:769px;height:63px;background:#ffd200"></i><i style="left:771px;height:62px;background:#fc0"></i><i style="left:773px;height:62px;background:#ffc100"></i><i style="left:775px;height:61px;background:#ffcf00"></i><i style="left:777px;height:61px;background:#ffdc00"></i><i style="left:779px;height:60px;background:#ffe300"></i><i style="left:781px;height:60px;background:#ffea00"></i><i style="left:783px;height:60px;background:#ffd900"></i><i style="left:785px;height:61px;background:#ffdf00"></i><i style="left:787px;height:61px;background:#ffdc00"></i><i style="left:789px;height:61px;background:#ffed00"></i><i style="left:791px;height:58px;background:#fff600"></i><i style="left:793px;height:59px;background:linear-gradient(#fff600 0,#fff500 63px)"></i><i style="left:795px;height:62px;background:linear-gradient(#f8ff07 0,#fbff04 63px)"></i><i style="left:797px;height:66px;background:linear-gradient(#fff300 0,#fe0 70px)"></i><i style="left:799px;height:71px;background:linear-gradient(#fdff02 0,#fffa00 70px)"></i><i style="left:801px;height:71px;background:linear-gradient(#fff900 0,#ffef00 70px)"></i><i style="left:803px;height:70px;background:linear-gradient(#fff800 0,#ffec00 70px)"></i><i style="left:805px;height:69px;background:linear-gradient(#ff0 0,#fff100 70px)"></i><i style="left:807px;height:68px;background:linear-gradient(#fff800 0,#ffe800 70px)"></i><i style="left:809px;height:59px;background:linear-gradient(#fff800 0,#ffe700 63px)"></i><i style="left:811px;height:57px;background:linear-gradient(#fff200 0,#ffe200 56px)"></i><i style="left:813px;height:59px;background:linear-gradient(#f8ff07 0,#fff800 63px)"></i><i style="left:815px;height:57px;background:linear-gradient(#f9ff06 0,#fffd00 56px)"></i><i style="left:817px;height:54px;background:linear-gradient(#edff12 0,#f1ff0e 56px)"></i><i style="left:819px;height:53px;background:#e5ff1a"></i><i style="left:821px;height:53px;background:#e6ff19"></i><i style="left:823px;height:52px;background:#d4ff2b"></i><i style="left:825px;height:52px;background:#cf3"></i><i style="left:827px;height:52px;background:#c2ff3d"></i><i style="left:829px;height:49px;background:#a7ff58"></i><i style="left:831px;height:47px;background:#89ff76"></i><i style="left:833px;height:44px;background:linear-gradient(#64ff9b 0,#6eff91 42px)"></i><i style="left:835px;height:41px;background:linear-gradient(#5fa 0,#73ff8c 42px)"></i><i style="left:837px;height:39px;background:linear-gradient(#2affd5 0,#5bffa4 42px)"></i><i style="left:839px;height:39px;background:linear-gradient(#00e1ff 0,#0ff 21px,#2fffd0 35px,#36ffc9 42px)"></i><i style="left:841px;height:39px;background:linear-gradient(#007cff 0,#008bff 14px,#009bff 21px,#00ceff 28px,#00edff 35px,#00f6ff 42px)"></i><i style="left:843px;height:39px;background:linear-gradient(#0046ff 0,#0053ff 14px,#0064ff 21px,#00acff 28px,#00caff 35px,#00d2ff 42px)"></i><i style="left:845px;height:36px;background:linear-gradient(#0043ff 0,#0051ff 14px,#0062ff 21px,#00abff 28px,#00c6ff 35px)"></i><i style="left:847px;height:32px;background:linear-gradient(#0043ff 0,#0050ff 14px,#0062ff 21px,#00acff 28px,#00c3ff 35px)"></i><i style="left:849px;height:32px;background:linear-gradient(#0038ff 0,#0045ff 14px,#0057ff 21px,#00a2ff 28px,#00b6ff 35px)"></i><i style="left:851px;height:32px;background:linear-gradient(#003cff 0,#0049ff 14px,#005cff 21px,#00a8ff 28px,#00b9ff 35px)"></i><i style="left:853px;height:32px;background:linear-gradient(#002eff 0,#003cff 14px,#004fff 21px,#009cff 28px,#00a9ff 35px)"></i><i style="left:855px;height:32px;background:linear-gradient(#0032ff 0,#0040ff 14px,#0053ff 21px,#00a1ff 28px,#00acff 35px)"></i><i style="left:857px;height:44px;background:linear-gradient(#0045ff 0,#005cff 14px,#0090ff 21px,#00c9ff 28px,#00dcff 42px)"></i><i style="left:859px;height:45px;background:linear-gradient(#005fff 0,#007fff 14px,#00d4ff 21px,#00f7ff 28px,#15ffea 42px,#17ffe8 49px)"></i><i style="left:861px;height:46px;background:linear-gradient(#007bff 0,#0091ff 7px,#00c8ff 14px,#05fffa 21px,#20ffdf 28px,#39ffc6 42px,#3bffc4 49px)"></i><i style="left:863px;height:46px;background:linear-gradient(#00a4ff 0,#00c5ff 7px,#21ffde 14px,#43ffbc 21px,#6bff94 42px,#6eff91 49px)"></i><i style="left:865px;height:47px;background:linear-gradient(#00cdff 0,#00f9ff 7px,#7f8 14px,#9fff60 49px)"></i><i style="left:867px;height:47px;background:linear-gradient(#00cdff 0,#00f8ff 7px,#79ff86 14px,#a0ff5f 49px)"></i><i style="left:869px;height:45px;background:linear-gradient(#00cfff 0,#00f9ff 7px,#7eff81 14px,#a3ff5c 49px)"></i><i style="left:871px;height:44px;background:linear-gradient(#00d1ff 0,#00f9ff 7px,#82ff7d 14px,#a2ff5d 42px)"></i><i style="left:873px;height:43px;background:linear-gradient(#00e5ff 0,#0dfff2 7px,#98ff67 14px,#b7ff48 42px)"></i><i style="left:875px;height:42px;background:linear-gradient(#00f1ff 0,#18ffe7 7px,#a7ff58 14px,#c5ff3a 42px)"></i><i style="left:877px;height:42px;background:linear-gradient(#00bcff 0,#00d7ff 7px,#7cff83 14px,#a3ff5c 21px,#beff41 42px)"></i><i style="left:879px;height:40px;background:linear-gradient(#009aff 0,#0af 7px,#65ff9a 14px,#abff54 21px,#cbff34 42px)"></i><i style="left:881px;height:38px;background:linear-gradient(#0087ff 0,#0097ff 7px,#45ffba 14px,#9cff63 21px,#bf4 42px)"></i><i style="left:883px;height:39px;background:linear-gradient(#0082ff 0,#0091ff 7px,#34ffcb 14px,#9bff64 21px,#b8ff47 42px)"></i><i style="left:885px;height:41px;background:linear-gradient(#0082ff 0,#0090ff 7px,#27ffd8 14px,#9fff60 21px,#bf4 42px)"></i><i style="left:887px;height:42px;background:linear-gradient(#0084ff 0,#0091ff 7px,#1cffe3 14px,#a4ff5b 21px,#bfff40 42px)"></i><i style="left:889px;height:43px;background:linear-gradient(#00adff 0,#00c5ff 7px,#4cffb3 14px,#abff54 21px,#c1ff3e 35px,#c4ff3b 42px)"></i><i style="left:891px;height:44px;background:linear-gradient(#00c6ff 0,#00e9ff 7px,#6bff94 14px,#a1ff5e 21px,#b9ff46 28px,#b9ff46 42px)"></i><i style="left:893px;height:44px;background:linear-gradient(#00c8ff 0,#00ecff 7px,#6eff91 14px,#a4ff5b 21px,#bf4 28px,#bf4 42px)"></i><i style="left:895px;height:44px;background:linear-gradient(#00d3ff 0,#00f7ff 7px,#78ff87 14px,#aeff51 21px,#c6ff39 28px,#c6ff39 42px)"></i><i style="left:897px;height:43px;background:linear-gradient(#00d6ff 0,#00f9ff 7px,#7bff84 14px,#b1ff4e 21px,#c9ff36 28px,#c9ff36 42px)"></i><i style="left:899px;height:43px;background:linear-gradient(#00d4ff 0,#00f2ff 7px,#61ff9e 14px,#b4ff4b 21px,#d0ff2f 28px,#d6ff29 42px)"></i><i style="left:901px;height:42px;background:linear-gradient(#009eff 0,#00afff 7px,#00faff 14px,#89ff76 21px,#abff54 28px,#c0ff3f 42px)"></i><i style="left:903px;height:41px;background:linear-gradient(#0087ff 0,#0092ff 7px,#00c5ff 14px,#70ff8f 21px,#9bff64 28px,#b8ff47 42px)"></i><i style="left:905px;height:39px;background:linear-gradient(#0094ff 0,#009eff 7px,#00c6ff 14px,#6dff92 21px,#a3ff5c 28px,#c2ff3d 42px)"></i><i style="left:907px;height:37px;background:linear-gradient(#007eff 0,#08f 7px,#00a3ff 14px,#46ffb9 21px,#8f7 28px,#9eff61 35px)"></i><i style="left:909px;height:38px;background:linear-gradient(#0083ff 0,#009cff 14px,#3cffc3 21px,#89ff76 28px,#a1ff5e 35px,#acff53 42px)"></i><i style="left:911px;height:38px;background:linear-gradient(#09f 0,#00acff 14px,#2fffd0 21px,#83ff7c 28px,#adff52 35px,#b8ff47 42px)"></i><i style="left:913px;height:38px;background:linear-gradient(#07f 0,#008cff 14px,#00d6ff 21px,#32ffcd 28px,#7bff84 35px,#87ff78 42px)"></i><i style="left:915px;height:38px;background:linear-gradient(#0073ff 0,#08f 14px,#00b6ff 21px,#13ffec 28px,#6aff95 35px,#76ff89 42px)"></i><i style="left:917px;height:37px;background:linear-gradient(#0070ff 0,#0084ff 14px,#00b0ff 21px,#0cfff3 28px,#5fffa0 35px)"></i><i style="left:919px;height:35px;background:linear-gradient(#006eff 0,#0081ff 14px,#00acff 21px,#06fff9 28px,#5fa 35px)"></i><i style="left:921px;height:33px;background:linear-gradient(#007aff 0,#008bff 14px,#00b5ff 21px,#0dfff2 28px,#59ffa6 35px)"></i><i style="left:923px;height:32px;background:linear-gradient(#007aff 0,#0089ff 14px,#00b2ff 21px,#09fff6 28px,#50ffaf 35px)"></i><i style="left:925px;height:32px;background:linear-gradient(#07f 0,#0086ff 14px,#00a7ff 21px,#00e9ff 28px,#15ffea 35px)"></i><i style="left:927px;height:31px;background:linear-gradient(#005fff 0,#006eff 14px,#0087ff 21px,#00b6ff 28px,#00c4ff 35px)"></i><i style="left:929px;height:31px;background:linear-gradient(#0058ff 0,#06f 14px,#007fff 21px,#00afff 28px,#0bf 35px)"></i><i style="left:931px;height:31px;background:linear-gradient(#0048ff 0,#05f 14px,#006dff 21px,#009eff 28px,#0af 35px)"></i><i style="left:933px;height:31px;background:linear-gradient(#003eff 0,#0049ff 14px,#0062ff 21px,#0094ff 28px,#009eff 35px)"></i><i style="left:935px;height:31px;background:linear-gradient(#0045ff 0,#004fff 14px,#0067ff 21px,#009aff 28px,#00a3ff 35px)"></i><i style="left:937px;height:29px;background:linear-gradient(#0040ff 0,#0048ff 14px,#0061ff 21px,#0094ff 28px)"></i><i style="left:939px;height:28px;background:linear-gradient(#002aff 0,#002fff 14px,#0040ff 21px,#0062ff 28px)"></i><i style="left:941px;height:28px;background:#0000e0"></i><i style="left:943px;height:29px;background:#0000e2"></i><i style="left:945px;height:29px;background:#0000e4"></i><i style="left:947px;height:29px;background:#0000e2"></i><i style="left:949px;height:29px;background:#0000de"></i><i style="left:951px;height:29px;background:#0000d7"></i></div></div><div class="cb" style="top:625px"></div><span class="t y r" style="left:-115px;top:522.5px">0</span><span class="t y r" style="left:-115px;top:552.5px">20</span><span class="t y r" style="left:-115px;top:585px">40</span><span class="t y r" style="left:-115px;top:618px">60</span><span class="t y r" style="left:-115px;top:650.5px">80</span><span class="t y r" style="left:-115px;top:678.5px">100</span><span class="yl" style="top:600.5px">Pressure (dbar)</span><span class="t" style="left:-6.6px;top:716.5px">25</span><span class="t" style="left:-7px;top:729.5px">Feb</span><span class="t" style="left:105.02px;top:716.5px">1</span><span class="t" style="left:102.12px;top:729.5px">Mar</span><span class="t" style="left:215.14px;top:716.5px">5</span><span class="t" style="left:348.04px;top:716.5px">10</span><span class="t" style="left:484.44px;top:716.5px">15</span><span class="t" style="left:620.84px;top:716.5px">20</span><span class="t" style="left:757.24px;top:716.5px">25</span><span class="t" style="left:893.64px;top:716.5px">30</span><span class="c n" style="left:19px;top:655px">1025.0</span><span class="c n" style="left:51.4px;top:655px">1025.2</span><span class="c n" style="left:83.8px;top:655px">1025.4</span><span class="c n" style="left:116.2px;top:655px">1025.6</span><span class="c n" style="left:148.6px;top:655px">1025.8</span><span class="c n" style="left:181px;top:655px">1026.0</span><span class="c n" style="left:213.4px;top:655px">1026.2</span><span class="c n" style="left:245.8px;top:655px">1026.4</span><span class="c" style="left:141px;top:670px">Density (kg m<sup>-3</sup>)</span><svg width="1024" height="768" shape-rendering="crispEdges"><rect x="92" y="11" width="1" height="164" fill="#fff"/><rect x="993" y="11" width="1" height="164" fill="#fff"/><rect x="88" y="11" width="4" height="1" fill="#fff"/><rect x="994" y="11" width="5" height="1" fill="#fff"/><rect x="90" y="19" width="2" height="1" fill="#fff"/><rect x="994" y="19" width="3" height="1" fill="#fff"/><rect x="90" y="27" width="2" height="1" fill="#fff"/><rect x="994" y="27" width="3" height="1" fill="#fff"/><rect x="90" y="35" width="2" height="1" fill="#fff"/><rect x="994" y="35" width="3" height="1" fill="#fff"/><rect x="88" y="43" width="4" height="1" fill="#fff"/><rect x="994" y="43" width="5" height="1" fill="#fff"/><rect x="90" y="52" width="2" height="1" fill="#fff"/><rect x="994" y="52" width="3" height="1" fill="#fff"/><rect x="90" y="60" width="2" height="1" fill="#fff"/><rect x="994" y="60" width="3" height="1" fill="#fff"/><rect x="90" y="68" width="2" height="1" fill="#fff"/><rect x="994" y="68" width="3" height="1" fill="#fff"/><rect x="88" y="76" width="4" height="1" fill="#fff"/><rect x="994" y="76" width="5" height="1" fill="#fff"/><rect x="90" y="84" width="2" height="1" fill="#fff"/><rect x="994" y="84" width="3" height="1" fill="#fff"/><rect x="90" y="92" width="2" height="1" fill="#fff"/><rect x="994" y="92" width="3" height="1" fill="#fff"/><rect x="90" y="100" width="2" height="1" fill="#fff"/><rect x="994" y="100" width="3" height="1" fill="#fff"/><rect x="88" y="109" width="4" height="1" fill="#fff"/><rect x="994" y="109" width="5" height="1" fill="#fff"/><rect x="90" y="117" width="2" height="1" fill="#fff"/><rect x="994" y="117" width="3" height="1" fill="#fff"/><rect x="90" y="125" width="2" height="1" fill="#fff"/><rect x="994" y="125" width="3" height="1" fill="#fff"/><rect x="90" y="133" width="2" height="1" fill="#fff"/><rect x="994" y="133" width="3" height="1" fill="#fff"/><rect x="88" y="141" width="4" height="1" fill="#fff"/><rect x="994" y="141" width="5" height="1" fill="#fff"/><rect x="90" y="149" width="2" height="1" fill="#fff"/><rect x="994" y="149" width="3" height="1" fill="#fff"/><rect x="90" y="158" width="2" height="1" fill="#fff"/><rect x="994" y="158" width="3" height="1" fill="#fff"/><rect x="90" y="166" width="2" height="1" fill="#fff"/><rect x="994" y="166" width="3" height="1" fill="#fff"/><rect x="88" y="174" width="4" height="1" fill="#fff"/><rect x="994" y="174" width="5" height="1" fill="#fff"/><rect x="92" y="191" width="902" height="1" fill="#fff"/><rect x="92" y="192" width="1" height="3" fill="#fff"/><rect x="202" y="192" width="1" height="3" fill="#fff"/><rect x="311" y="192" width="1" height="3" fill="#fff"/><rect x="447" y="192" width="1" height="3" fill="#fff"/><rect x="584" y="192" width="1" height="3" fill="#fff"/><rect x="720" y="192" width="1" height="3" fill="#fff"/><rect x="857" y="192" width="1" height="3" fill="#fff"/><rect x="993" y="192" width="1" height="3" fill="#fff"/><rect x="119" y="117" width="244" height="1" fill="#fff"/><rect x="119" y="117" width="1" height="12" fill="#fff"/><rect x="362" y="117" width="1" height="12" fill="#fff"/><rect x="119" y="128" width="244" height="1" fill="#fff"/><rect x="119" y="129" width="1" height="4" fill="#fff"/><rect x="125" y="129" width="1" height="2" fill="#fff"/><rect x="131" y="129" width="1" height="2" fill="#fff"/><rect x="137" y="129" width="1" height="2" fill="#fff"/><rect x="143" y="129" width="1" height="2" fill="#fff"/><rect x="149" y="129" width="1" height="2" fill="#fff"/><rect x="155" y="129" width="1" height="2" fill="#fff"/><rect x="162" y="129" width="1" height="2" fill="#fff"/><rect x="168" y="129" width="1" height="2" fill="#fff"/><rect x="174" y="129" width="1" height="2" fill="#fff"/><rect x="180" y="129" width="1" height="4" fill="#fff"/><rect x="186" y="129" width="1" height="2" fill="#fff"/><rect x="192" y="129" width="1" height="2" fill="#fff"/><rect x="198" y="129" width="1" height="2" fill="#fff"/><rect x="204" y="129" width="1" height="2" fill="#fff"/><rect x="210" y="129" width="1" height="2" fill="#fff"/><rect x="216" y="129" width="1" height="2" fill="#fff"/><rect x="222" y="129" width="1" height="2" fill="#fff"/><rect x="228" y="129" width="1" height="2" fill="#fff"/><rect x="234" y="129" width="1" height="2" fill="#fff"/><rect x="240" y="129" width="1" height="4" fill="#fff"/><rect x="247" y="129" width="1" height="2" fill="#fff"/><rect x="253" y="129" width="1" height="2" fill="#fff"/><rect x="259" y="129" width="1" height="2" fill="#fff"/><rect x="265" y="129" width="1" height="2" fill="#fff"/><rect x="271" y="129" width="1" height="2" fill="#fff"/><rect x="277" y="129" width="1" height="2" fill="#fff"/><rect x="283" y="129" width="1" height="2" fill="#fff"/><rect x="289" y="129" width="1" height="2" fill="#fff"/><rect x="295" y="129" width="1" height="2" fill="#fff"/><rect x="301" y="129" width="1" height="4" fill="#fff"/><rect x="307" y="129" width="1" height="2" fill="#fff"/><rect x="313" y="129" width="1" height="2" fill="#fff"/><rect x="319" y="129" width="1" height="2" fill="#fff"/><rect x="326" y="129" width="1" height="2" fill="#fff"/><rect x="332" y="129" width="1" height="2" fill="#fff"/><rect x="338" y="129" width="1" height="2" fill="#fff"/><rect x="344" y="129" width="1" height="2" fill="#fff"/><rect x="350" y="129" width="1" height="2" fill="#fff"/><rect x="356" y="129" width="1" height="2" fill="#fff"/><rect x="362" y="129" width="1" height="4" fill="#fff"/><rect x="92" y="265" width="1" height="164" fill="#fff"/><rect x="993" y="265" width="1" height="164" fill="#fff"/><rect x="88" y="265" width="4" height="1" fill="#fff"/><rect x="994" y="265" width="5" height="1" fill="#fff"/><rect x="90" y="273" width="2" height="1" fill="#fff"/><rect x="994" y="273" width="3" height="1" fill="#fff"/><rect x="90" y="281" width="2" height="1" fill="#fff"/><rect x="994" y="281" width="3" height="1" fill="#fff"/><rect x="90" y="289" width="2" height="1" fill="#fff"/><rect x="994" y="289" width="3" height="1" fill="#fff"/><rect x="88" y="297" width="4" height="1" fill="#fff"/><rect x="994" y="297" width="5" height="1" fill="#fff"/><rect x="90" y="306" width="2" height="1" fill="#fff"/><rect x="994" y="306" width="3" height="1" fill="#fff"/><rect x="90" y="314" width="2" height="1" fill="#fff"/><rect x="994" y="314" width="3" height="1" fill="#fff"/><rect x="90" y="322" width="2" height="1" fill="#fff"/><rect x="994" y="322" width="3" height="1" fill="#fff"/><rect x="88" y="330" width="4" height="1" fill="#fff"/><rect x="994" y="330" width="5" height="1" fill="#fff"/><rect x="90" y="338" width="2" height="1" fill="#fff"/><rect x="994" y="338" width="3" height="1" fill="#fff"/><rect x="90" y="346" width="2" height="1" fill="#fff"/><rect x="994" y="346" width="3" height="1" fill="#fff"/><rect x="90" y="354" width="2" height="1" fill="#fff"/><rect x="994" y="354" width="3" height="1" fill="#fff"/><rect x="88" y="363" width="4" height="1" fill="#fff"/><rect x="994" y="363" width="5" height="1" fill="#fff"/><rect x="90" y="371" width="2" height="1" fill="#fff"/><rect x="994" y="371" width="3" height="1" fill="#fff"/><rect x="90" y="379" width="2" height="1" fill="#fff"/><rect x="994" y="379" width="3" height="1" fill="#fff"/><rect x="90" y="387" width="2" height="1" fill="#fff"/><rect x="994" y="387" width="3" height="1" fill="#fff"/><rect x="88" y="395" width="4" height="1" fill="#fff"/><rect x="994" y="395" width="5" height="1" fill="#fff"/><rect x="90" y="403" width="2" height="1" fill="#fff"/><rect x="994" y="403" width="3" height="1" fill="#fff"/><rect x="90" y="412" width="2" height="1" fill="#fff"/><rect x="994" y="412" width="3" height="1" fill="#fff"/><rect x="90" y="420" width="2" height="1" fill="#fff"/><rect x="994" y="420" width="3" height="1" fill="#fff"/><rect x="88" y="428" width="4" height="1" fill="#fff"/><rect x="994" y="428" width="5" height="1" fill="#fff"/><rect x="92" y="444" width="902" height="1" fill="#fff"/><rect x="92" y="445" width="1" height="3" fill="#fff"/><rect x="202" y="445" width="1" height="3" fill="#fff"/><rect x="311" y="445" width="1" height="3" fill="#fff"/><rect x="447" y="445" width="1" height="3" fill="#fff"/><rect x="584" y="445" width="1" height="3" fill="#fff"/><rect x="720" y="445" width="1" height="3" fill="#fff"/><rect x="857" y="445" width="1" height="3" fill="#fff"/><rect x="993" y="445" width="1" height="3" fill="#fff"/><rect x="119" y="370" width="244" height="1" fill="#fff"/><rect x="119" y="370" width="1" height="12" fill="#fff"/><rect x="362" y="370" width="1" height="12" fill="#fff"/><rect x="119" y="381" width="244" height="1" fill="#fff"/><rect x="119" y="382" width="1" height="4" fill="#fff"/><rect x="131" y="382" width="1" height="2" fill="#fff"/><rect x="143" y="382" width="1" height="2" fill="#fff"/><rect x="155" y="382" width="1" height="2" fill="#fff"/><rect x="168" y="382" width="1" height="2" fill="#fff"/><rect x="180" y="382" width="1" height="4" fill="#fff"/><rect x="192" y="382" width="1" height="2" fill="#fff"/><rect x="204" y="382" width="1" height="2" fill="#fff"/><rect x="216" y="382" width="1" height="2" fill="#fff"/><rect x="228" y="382" width="1" height="2" fill="#fff"/><rect x="240" y="382" width="1" height="4" fill="#fff"/><rect x="253" y="382" width="1" height="2" fill="#fff"/><rect x="265" y="382" width="1" height="2" fill="#fff"/><rect x="277" y="382" width="1" height="2" fill="#fff"/><rect x="289" y="382" width="1" height="2" fill="#fff"/><rect x="301" y="382" width="1" height="4" fill="#fff"/><rect x="313" y="382" width="1" height="2" fill="#fff"/><rect x="326" y="382" width="1" height="2" fill="#fff"/><rect x="338" y="382" width="1" height="2" fill="#fff"/><rect x="350" y="382" width="1" height="2" fill="#fff"/><rect x="362" y="382" width="1" height="4" fill="#fff"/><rect x="92" y="518" width="1" height="164" fill="#fff"/><rect x="993" y="518" width="1" height="164" fill="#fff"/><rect x="88" y="518" width="4" height="1" fill="#fff"/><rect x="994" y="518" width="5" height="1" fill="#fff"/><rect x="90" y="526" width="2" height="1" fill="#fff"/><rect x="994" y="526" width="3" height="1" fill="#fff"/><rect x="90" y="534" width="2" height="1" fill="#fff"/><rect x="994" y="534" width="3" height="1" fill="#fff"/><rect x="90" y="542" width="2" height="1" fill="#fff"/><rect x="994" y="542" width="3" height="1" fill="#fff"/><rect x="88" y="550" width="4" height="1" fill="#fff"/><rect x="994" y="550" width="5" height="1" fill="#fff"/><rect x="90" y="559" width="2" height="1" fill="#fff"/><rect x="994" y="559" width="3" height="1" fill="#fff"/><rect x="90" y="567" width="2" height="1" fill="#fff"/><rect x="994" y="567" width="3" height="1" fill="#fff"/><rect x="90" y="575" width="2" height="1" fill="#fff"/><rect x="994" y="575" width="3" height="1" fill="#fff"/><rect x="88" y="583" width="4" height="1" fill="#fff"/><rect x="994" y="583" width="5" height="1" fill="#fff"/><rect x="90" y="591" width="2" height="1" fill="#fff"/><rect x="994" y="591" width="3" height="1" fill="#fff"/><rect x="90" y="599" width="2" height="1" fill="#fff"/><rect x="994" y="599" width="3" height="1" fill="#fff"/><rect x="90" y="607" width="2" height="1" fill="#fff"/><rect x="994" y="607" width="3" height="1" fill="#fff"/><rect x="88" y="616" width="4" height="1" fill="#fff"/><rect x="994" y="616" width="5" height="1" fill="#fff"/><rect x="90" y="624" width="2" height="1" fill="#fff"/><rect x="994" y="624" width="3" height="1" fill="#fff"/><rect x="90" y="632" width="2" height="1" fill="#fff"/><rect x="994" y="632" width="3" height="1" fill="#fff"/><rect x="90" y="640" width="2" height="1" fill="#fff"/><rect x="994" y="640" width="3" height="1" fill="#fff"/><rect x="88" y="648" width="4" height="1" fill="#fff"/><rect x="994" y="648" width="5" height="1" fill="#fff"/><rect x="90" y="656" width="2" height="1" fill="#fff"/><rect x="994" y="656" width="3" height="1" fill="#fff"/><rect x="90" y="665" width="2" height="1" fill="#fff"/><rect x="994" y="665" width="3" height="1" fill="#fff"/><rect x="90" y="673" width="2" height="1" fill="#fff"/><rect x="994" y="673" width="3" height="1" fill="#fff"/><rect x="88" y="681" width="4" height="1" fill="#fff"/><rect x="994" y="681" width="5" height="1" fill="#fff"/><rect x="92" y="698" width="902" height="1" fill="#fff"/><rect x="92" y="699" width="1" height="3" fill="#fff"/><rect x="202" y="699" width="1" height="3" fill="#fff"/><rect x="311" y="699" width="1" height="3" fill="#fff"/><rect x="447" y="699" width="1" height="3" fill="#fff"/><rect x="584" y="699" width="1" height="3" fill="#fff"/><rect x="720" y="699" width="1" height="3" fill="#fff"/><rect x="857" y="699" width="1" height="3" fill="#fff"/><rect x="993" y="699" width="1" height="3" fill="#fff"/><rect x="119" y="624" width="244" height="1" fill="#fff"/><rect x="119" y="624" width="1" height="12" fill="#fff"/><rect x="362" y="624" width="1" height="12" fill="#fff"/><rect x="119" y="635" width="244" height="1" fill="#fff"/><rect x="119" y="636" width="1" height="4" fill="#fff"/><rect x="127" y="636" width="1" height="2" fill="#fff"/><rect x="135" y="636" width="1" height="2" fill="#fff"/><rect x="143" y="636" width="1" height="2" fill="#fff"/><rect x="151" y="636" width="1" height="4" fill="#fff"/><rect x="160" y="636" width="1" height="2" fill="#fff"/><rect x="168" y="636" width="1" height="2" fill="#fff"/><rect x="176" y="636" width="1" height="2" fill="#fff"/><rect x="184" y="636" width="1" height="4" fill="#fff"/><rect x="192" y="636" width="1" height="2" fill="#fff"/><rect x="200" y="636" width="1" height="2" fill="#fff"/><rect x="208" y="636" width="1" height="2" fill="#fff"/><rect x="216" y="636" width="1" height="4" fill="#fff"/><rect x="224" y="636" width="1" height="2" fill="#fff"/><rect x="232" y="636" width="1" height="2" fill="#fff"/><rect x="240" y="636" width="1" height="2" fill="#fff"/><rect x="249" y="636" width="1" height="4" fill="#fff"/><rect x="257" y="636" width="1" height="2" fill="#fff"/><rect x="265" y="636" width="1" height="2" fill="#fff"/><rect x="273" y="636" width="1" height="2" fill="#fff"/><rect x="281" y="636" width="1" height="4" fill="#fff"/><rect x="289" y="636" width="1" height="2" fill="#fff"/><rect x="297" y="636" width="1" height="2" fill="#fff"/><rect x="305" y="636" width="1" height="2" fill="#fff"/><rect x="313" y="636" width="1" height="4" fill="#fff"/><rect x="322" y="636" width="1" height="2" fill="#fff"/><rect x="330" y="636" width="1" height="2" fill="#fff"/><rect x="338" y="636" width="1" height="2" fill="#fff"/><rect x="346" y="636" width="1" height="4" fill="#fff"/><rect x="354" y="636" width="1" height="2" fill="#fff"/><rect x="362" y="636" width="1" height="2" fill="#fff"/></svg></body></html>
